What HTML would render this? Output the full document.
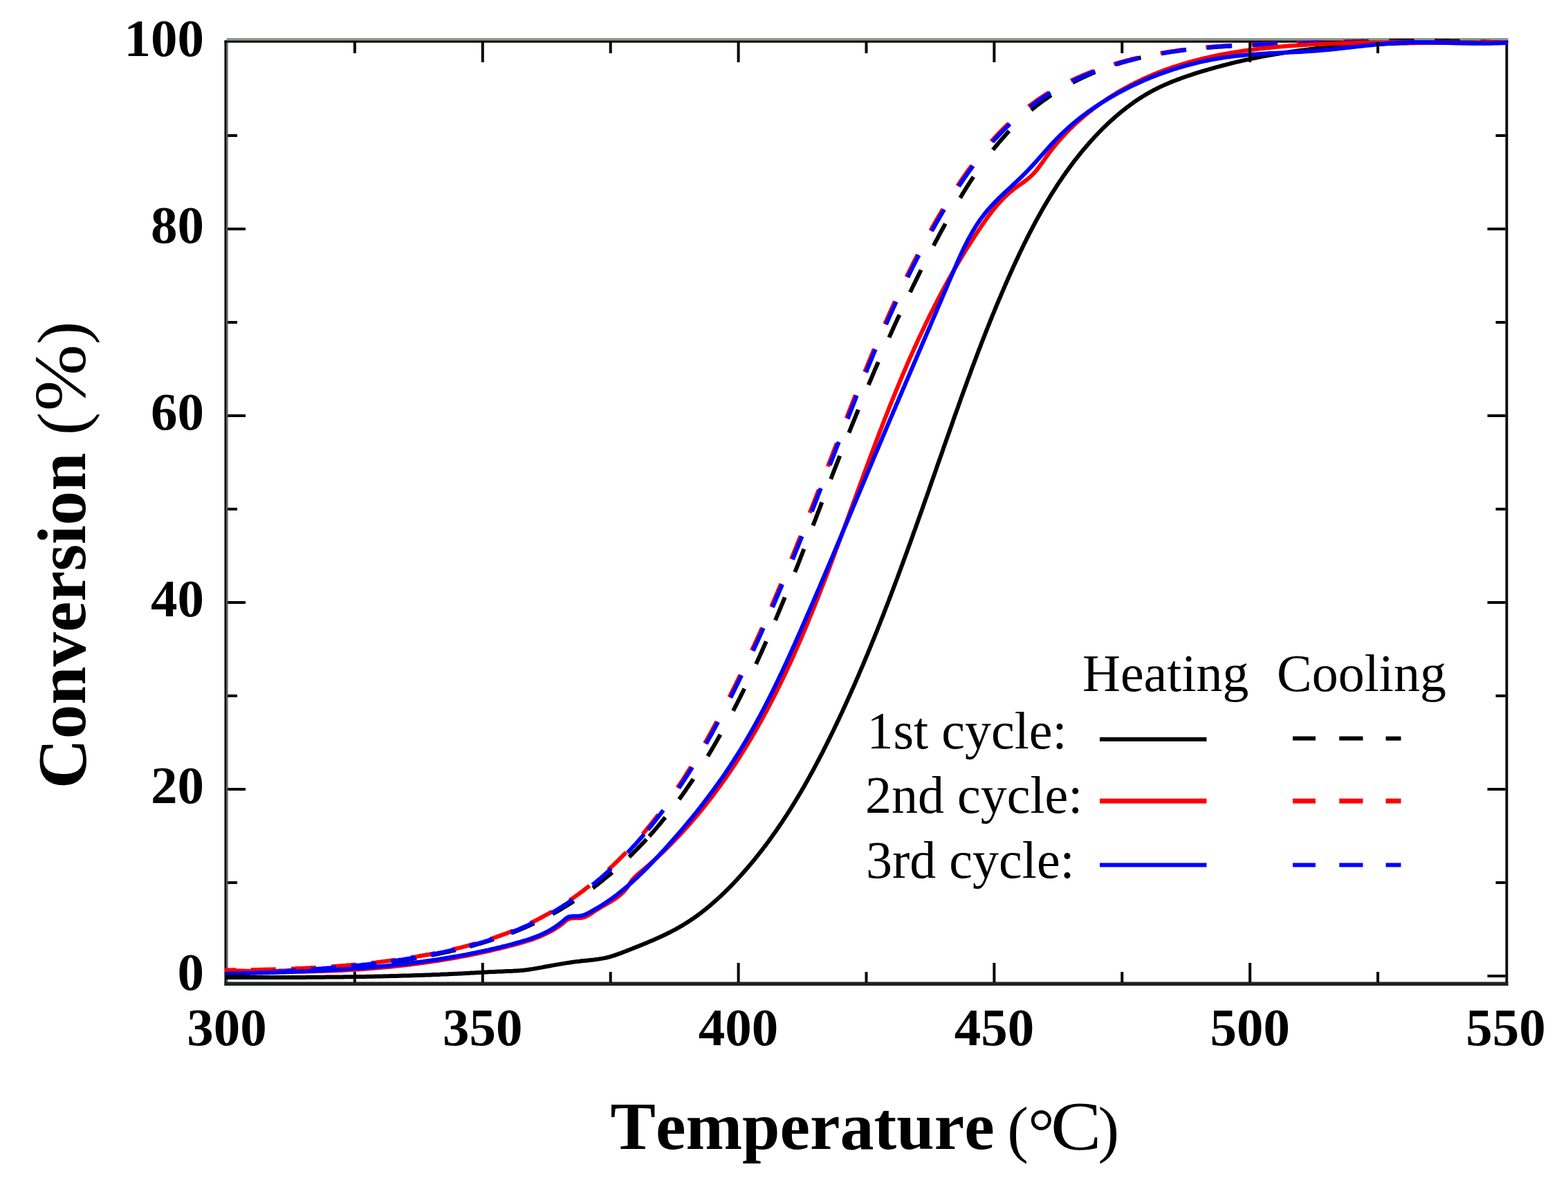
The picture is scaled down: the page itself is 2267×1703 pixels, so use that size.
<!DOCTYPE html><html><head><meta charset="utf-8"><title>Conversion vs Temperature</title>
<style>html,body{margin:0;padding:0;background:#fff;overflow:hidden;}svg{display:block;}text{font-kerning:none;font-feature-settings:"kern" 0;}</style></head><body>
<svg width="2267" height="1703" viewBox="0 0 2267 1703">
<rect x="0" y="0" width="2267" height="1703" fill="#ffffff"/>
<rect x="327.5" y="55" width="1853" height="3.5" fill="#8e968e"/>
<rect x="324.5" y="58.5" width="1856" height="3.2" fill="#050505"/>
<rect x="324.5" y="58.5" width="3.2" height="1366.5" fill="#000"/>
<rect x="327.7" y="62" width="2" height="1358" fill="#707070"/>
<rect x="2176.5" y="58.5" width="3.8" height="1366.5" fill="#000"/>
<rect x="324.5" y="1419.5" width="1856" height="5.5" fill="#1e2224"/>
<g fill="none" stroke-linejoin="round" stroke-linecap="butt">
<path d="M328.0,1406.5L331.0,1406.5 334.0,1406.5 337.0,1406.4 340.0,1406.4 343.0,1406.4 346.0,1406.3 349.0,1406.3 352.0,1406.2 355.0,1406.2 358.0,1406.1 361.0,1406.1 364.1,1406.0 367.1,1405.9 370.1,1405.9 373.1,1405.8 376.1,1405.7 379.1,1405.6 382.1,1405.6 385.1,1405.5 388.1,1405.4 391.1,1405.3 394.1,1405.2 397.1,1405.1 400.1,1405.0 403.1,1404.9 406.1,1404.8 409.1,1404.6 412.1,1404.5 415.1,1404.4 418.1,1404.2 421.1,1404.1 424.1,1404.0 427.1,1403.8 430.1,1403.7 433.1,1403.5 436.1,1403.3 439.1,1403.2 442.1,1403.0 445.1,1402.8 448.1,1402.6 451.1,1402.5 454.1,1402.3 457.1,1402.1 460.0,1401.9 463.0,1401.7 466.0,1401.4 469.0,1401.2 472.0,1401.0 475.0,1400.8 478.0,1400.5 481.0,1400.3 484.0,1400.0 487.0,1399.8 490.0,1399.5 493.0,1399.3 495.9,1399.0 498.9,1398.7 501.9,1398.4 504.9,1398.1 507.9,1397.8 510.9,1397.5 513.9,1397.2 516.8,1396.9 519.8,1396.6 522.8,1396.3 525.8,1395.9 528.8,1395.6 531.8,1395.3 534.7,1394.9 537.7,1394.5 540.7,1394.2 543.7,1393.8 546.6,1393.4 549.6,1393.0 552.6,1392.6 555.6,1392.2 558.5,1391.8 561.5,1391.4 564.5,1391.0 567.5,1390.6 570.4,1390.1 573.4,1389.7 576.4,1389.2 579.3,1388.8 582.3,1388.3 585.3,1387.8 588.2,1387.3 591.2,1386.9 594.2,1386.4 597.1,1385.8 600.1,1385.3 603.0,1384.8 606.0,1384.3 609.0,1383.7 611.9,1383.2 614.9,1382.6 617.8,1382.1 620.8,1381.5 623.7,1380.9 626.7,1380.3 629.6,1379.8 632.6,1379.1 635.5,1378.5 638.5,1377.9 641.4,1377.3 644.4,1376.6 647.3,1376.0 650.2,1375.3 653.2,1374.6 656.1,1374.0 659.0,1373.3 662.0,1372.6 664.9,1371.8 667.8,1371.1 670.7,1370.4 673.6,1369.6 676.5,1368.9 679.4,1368.1 682.3,1367.3 685.2,1366.5 688.1,1365.7 691.0,1364.9 693.9,1364.0 696.8,1363.2 699.7,1362.3 702.5,1361.4 705.4,1360.6 708.3,1359.7 711.1,1358.7 714.0,1357.8 716.8,1356.9 719.6,1355.9 722.5,1354.9 725.3,1353.9 728.1,1352.9 730.9,1351.9 733.8,1350.9 736.6,1349.8 739.4,1348.8 742.1,1347.7 744.9,1346.6 747.7,1345.5 750.5,1344.4 753.2,1343.2 756.0,1342.1 758.7,1340.9 761.5,1339.7 764.2,1338.5 766.9,1337.3 769.6,1336.0 772.3,1334.8 775.0,1333.5 777.7,1332.2 780.4,1330.9 783.1,1329.5 785.8,1328.2 788.4,1326.8 791.1,1325.4 793.7,1324.0 796.4,1322.6 799.0,1321.2 801.6,1319.7 804.2,1318.3 806.8,1316.8 809.4,1315.3 812.0,1313.8 814.5,1312.2 817.1,1310.7 819.7,1309.1 822.2,1307.5 824.8,1305.9 827.3,1304.3 829.8,1302.7 832.3,1301.0 834.8,1299.4 837.3,1297.7 839.8,1296.0 842.3,1294.3 844.8,1292.6 847.2,1290.9 849.7,1289.1 852.1,1287.3 854.5,1285.6 856.9,1283.8 859.4,1282.0 861.8,1280.1 864.1,1278.3 866.5,1276.5 868.9,1274.6 871.3,1272.7 873.6,1270.8 875.9,1268.9 878.3,1267.0 880.6,1265.1 882.9,1263.2 885.2,1261.2 887.5,1259.2 889.7,1257.3 892.0,1255.3 894.2,1253.3 896.5,1251.3 898.7,1249.3 900.9,1247.2 903.1,1245.2 905.3,1243.1 907.4,1241.1 909.6,1239.0 911.8,1236.9 913.9,1234.8 916.0,1232.7 918.1,1230.6 920.2,1228.5 922.3,1226.3 924.4,1224.2 926.5,1222.0 928.5,1219.9 930.6,1217.7 932.6,1215.5 934.7,1213.3 936.7,1211.1 938.7,1208.9 940.7,1206.7 942.6,1204.4 944.6,1202.2 946.6,1199.9 948.5,1197.7 950.5,1195.4 952.4,1193.1 954.3,1190.8 956.2,1188.5 958.1,1186.2 960.0,1183.9 961.9,1181.6 963.8,1179.3 965.6,1176.9 967.5,1174.6 969.3,1172.2 971.1,1169.9 972.9,1167.5 974.8,1165.1 976.6,1162.7 978.3,1160.3 980.1,1157.9 981.9,1155.5 983.7,1153.1 985.4,1150.7 987.2,1148.3 988.9,1145.8 990.6,1143.4 992.3,1140.9 994.0,1138.5 995.7,1136.0 997.4,1133.5 999.1,1131.0 1000.8,1128.6 1002.5,1126.1 1004.1,1123.6 1005.8,1121.1 1007.4,1118.6 1009.0,1116.0 1010.7,1113.5 1012.3,1111.0 1013.9,1108.5 1015.5,1105.9 1017.1,1103.4 1018.6,1100.8 1020.2,1098.3 1021.8,1095.7 1023.4,1093.1 1024.9,1090.6 1026.4,1088.0 1028.0,1085.4 1029.5,1082.8 1031.0,1080.2 1032.6,1077.6 1034.1,1075.0 1035.6,1072.4 1037.1,1069.8 1038.5,1067.2 1040.0,1064.6 1041.5,1062.0 1043.0,1059.3 1044.4,1056.7 1045.9,1054.1 1047.3,1051.4 1048.8,1048.8 1050.2,1046.1 1051.6,1043.5 1053.1,1040.8 1054.5,1038.2 1055.9,1035.5 1057.3,1032.9 1058.7,1030.2 1060.1,1027.5 1061.5,1024.8 1062.8,1022.2 1064.2,1019.5 1065.6,1016.8 1066.9,1014.1 1068.3,1011.4 1069.7,1008.8 1071.0,1006.1 1072.3,1003.4 1073.7,1000.7 1075.0,998.0 1076.3,995.3 1077.6,992.6 1079.0,989.9 1080.3,987.2 1081.6,984.4 1082.9,981.7 1084.2,979.0 1085.5,976.3 1086.7,973.6 1088.0,970.9 1089.3,968.1 1090.6,965.4 1091.8,962.7 1093.1,960.0 1094.3,957.2 1095.6,954.5 1096.8,951.8 1098.1,949.0 1099.3,946.3 1100.6,943.5 1101.8,940.8 1103.0,938.0 1104.2,935.3 1105.5,932.5 1106.7,929.8 1107.9,927.0 1109.1,924.3 1110.3,921.5 1111.5,918.8 1112.7,916.0 1113.9,913.3 1115.1,910.5 1116.3,907.7 1117.4,905.0 1118.6,902.2 1119.8,899.4 1121.0,896.7 1122.1,893.9 1123.3,891.1 1124.5,888.3 1125.6,885.6 1126.8,882.8 1127.9,880.0 1129.1,877.2 1130.2,874.4 1131.4,871.7 1132.5,868.9 1133.7,866.1 1134.8,863.3 1135.9,860.5 1137.1,857.7 1138.2,854.9 1139.3,852.2 1140.4,849.4 1141.6,846.6 1142.7,843.8 1143.8,841.0 1144.9,838.2 1146.0,835.4 1147.1,832.6 1148.2,829.8 1149.4,827.0 1150.5,824.2 1151.6,821.4 1152.7,818.6 1153.8,815.8 1154.9,813.0 1156.0,810.2 1157.1,807.4 1158.1,804.6 1159.2,801.8 1160.3,799.0 1161.4,796.2 1162.5,793.4 1163.6,790.6 1164.7,787.8 1165.8,785.0 1166.8,782.2 1167.9,779.4 1169.0,776.6 1170.1,773.8 1171.2,771.0 1172.2,768.2 1173.3,765.3 1174.4,762.5 1175.5,759.7 1176.6,756.9 1177.6,754.1 1178.7,751.3 1179.8,748.5 1180.9,745.7 1181.9,742.9 1183.0,740.1 1184.1,737.3 1185.2,734.5 1186.2,731.7 1187.3,728.9 1188.4,726.1 1189.4,723.3 1190.5,720.5 1191.6,717.7 1192.7,714.8 1193.7,712.0 1194.8,709.2 1195.9,706.4 1197.0,703.6 1198.0,700.8 1199.1,698.0 1200.2,695.2 1201.3,692.4 1202.4,689.6 1203.4,686.8 1204.5,684.0 1205.6,681.2 1206.7,678.4 1207.8,675.7 1208.8,672.9 1209.9,670.1 1211.0,667.3 1212.1,664.5 1213.2,661.7 1214.3,658.9 1215.4,656.1 1216.5,653.3 1217.6,650.5 1218.7,647.7 1219.8,645.0 1220.9,642.2 1222.0,639.4 1223.1,636.6 1224.2,633.8 1225.3,631.0 1226.4,628.3 1227.5,625.5 1228.6,622.7 1229.7,619.9 1230.8,617.2 1231.9,614.4 1233.0,611.6 1234.2,608.8 1235.3,606.1 1236.4,603.3 1237.5,600.5 1238.7,597.7 1239.8,595.0 1240.9,592.2 1242.0,589.4 1243.2,586.7 1244.3,583.9 1245.4,581.1 1246.6,578.4 1247.7,575.6 1248.9,572.8 1250.0,570.1 1251.2,567.3 1252.3,564.6 1253.5,561.8 1254.6,559.0 1255.8,556.3 1256.9,553.5 1258.1,550.8 1259.3,548.0 1260.4,545.3 1261.6,542.5 1262.8,539.8 1263.9,537.0 1265.1,534.3 1266.3,531.5 1267.5,528.8 1268.7,526.0 1269.9,523.3 1271.0,520.5 1272.2,517.8 1273.4,515.1 1274.6,512.3 1275.8,509.6 1277.0,506.8 1278.2,504.1 1279.4,501.4 1280.7,498.6 1281.9,495.9 1283.1,493.2 1284.3,490.4 1285.5,487.7 1286.8,485.0 1288.0,482.2 1289.2,479.5 1290.5,476.8 1291.7,474.0 1292.9,471.3 1294.2,468.6 1295.4,465.9 1296.7,463.1 1297.9,460.4 1299.2,457.7 1300.5,455.0 1301.7,452.3 1303.0,449.5 1304.3,446.8 1305.6,444.1 1306.8,441.4 1308.1,438.7 1309.4,436.0 1310.7,433.3 1312.0,430.5 1313.3,427.8 1314.6,425.1 1315.9,422.4 1317.2,419.7 1318.5,417.0 1319.8,414.3 1321.1,411.6 1322.5,408.9 1323.8,406.2 1325.1,403.5 1326.5,400.8 1327.8,398.1 1329.1,395.4 1330.5,392.7 1331.8,390.0 1333.2,387.3 1334.6,384.6 1335.9,381.9 1337.3,379.2 1338.7,376.6 1340.0,373.9 1341.4,371.2 1342.8,368.5 1344.2,365.8 1345.6,363.1 1347.0,360.4 1348.4,357.8 1349.8,355.1 1351.2,352.4 1352.6,349.7 1354.0,347.0 1355.5,344.4 1356.9,341.7 1358.3,339.0 1359.8,336.3 1361.2,333.7 1362.7,331.0 1364.1,328.3 1365.6,325.7 1367.0,323.0 1368.5,320.3 1370.0,317.7 1371.5,315.0 1373.0,312.4 1374.4,309.7 1375.9,307.1 1377.5,304.4 1379.0,301.8 1380.5,299.2 1382.0,296.5 1383.5,293.9 1385.1,291.3 1386.6,288.7 1388.2,286.1 1389.8,283.5 1391.3,280.9 1392.9,278.3 1394.5,275.7 1396.1,273.1 1397.7,270.6 1399.3,268.0 1401.0,265.5 1402.6,262.9 1404.3,260.4 1405.9,257.9 1407.6,255.3 1409.3,252.8 1410.9,250.3 1412.6,247.8 1414.3,245.4 1416.1,242.9 1417.8,240.4 1419.5,238.0 1421.3,235.5 1423.1,233.1 1424.8,230.7 1426.6,228.3 1428.4,225.9 1430.2,223.5 1432.1,221.1 1433.9,218.8 1435.7,216.4 1437.6,214.1 1439.5,211.8 1441.4,209.5 1443.3,207.2 1445.2,204.9 1447.1,202.7 1449.1,200.4 1451.0,198.2 1453.0,196.0 1455.0,193.8 1457.0,191.6 1459.0,189.4 1461.0,187.3 1463.1,185.1 1465.2,183.0 1467.2,180.9 1469.3,178.8 1471.4,176.7 1473.6,174.7 1475.7,172.6 1477.9,170.6 1480.1,168.6 1482.2,166.6 1484.5,164.7 1486.7,162.7 1488.9,160.8 1491.2,158.9 1493.5,157.0 1495.8,155.2 1498.1,153.3 1500.4,151.5 1502.8,149.7 1505.2,147.9 1507.5,146.1 1510.0,144.4 1512.4,142.7 1514.8,141.0 1517.3,139.3 1519.8,137.6 1522.3,136.0 1524.8,134.4 1527.3,132.8 1529.8,131.2 1532.4,129.7 1535.0,128.2 1537.6,126.6 1540.2,125.2 1542.8,123.7 1545.4,122.2 1548.1,120.8 1550.7,119.4 1553.4,118.0 1556.1,116.7 1558.8,115.3 1561.5,114.0 1564.2,112.7 1566.9,111.4 1569.7,110.2 1572.4,108.9 1575.2,107.7 1578.0,106.5 1580.7,105.3 1583.5,104.2 1586.3,103.0 1589.1,101.9 1592.0,100.8 1594.8,99.7 1597.6,98.7 1600.5,97.7 1603.3,96.6 1606.2,95.6 1609.0,94.7 1611.9,93.7 1614.8,92.8 1617.7,91.9 1620.6,91.0 1623.4,90.1 1626.3,89.3 1629.2,88.4 1632.2,87.6 1635.1,86.8 1638.0,86.0 1640.9,85.3 1643.8,84.6 1646.7,83.9 1649.7,83.2 1652.6,82.5 1655.5,81.8 1658.5,81.2 1661.4,80.6 1664.3,79.9 1667.3,79.4 1670.2,78.8 1673.2,78.2 1676.2,77.7 1679.1,77.2 1682.1,76.6 1685.0,76.2 1688.0,75.7 1691.0,75.2 1693.9,74.8 1696.9,74.3 1699.9,73.9 1702.9,73.5 1705.9,73.1 1708.8,72.7 1711.8,72.3 1714.8,72.0 1717.8,71.6 1720.8,71.3 1723.8,70.9 1726.8,70.6 1729.8,70.3 1732.8,70.0 1735.7,69.7 1738.7,69.5 1741.7,69.2 1744.7,68.9 1747.7,68.7 1750.7,68.5 1753.8,68.2 1756.8,68.0 1759.8,67.8 1762.8,67.6 1765.8,67.4 1768.8,67.2 1771.8,67.0 1774.8,66.8 1777.8,66.7 1780.8,66.5 1783.8,66.3 1786.8,66.2 1789.8,66.0 1792.8,65.9 1795.8,65.7 1798.9,65.6 1801.9,65.4 1804.9,65.3 1807.9,65.2 1810.9,65.0 1813.9,64.9 1816.9,64.8 1819.9,64.7 1822.9,64.5 1825.9,64.4 1828.9,64.3 1831.9,64.2 1834.9,64.1 1837.9,64.0 1840.9,63.8 1843.9,63.7 1846.9,63.6 1849.9,63.5 1852.9,63.4 1855.8,63.3 1858.8,63.2 1861.8,63.0 1864.8,62.9 1867.8,62.8 1870.8,62.7 1873.8,62.6 1876.8,62.5 1879.7,62.4 1882.7,62.3 1885.7,62.2 1888.7,62.1 1891.7,62.0 1894.7,61.9 1897.6,61.8 1900.6,61.7 1903.6,61.6 1906.6,61.5 1909.6,61.4 1912.5,61.3 1915.5,61.2 1918.5,61.1 1921.5,61.0 1924.5,61.0 1927.4,60.9 1930.4,60.8 1933.4,60.7 1936.4,60.6 1939.4,60.5 1942.3,60.5 1945.3,60.4 1948.3,60.3 1951.3,60.2 1954.2,60.2 1957.2,60.1 1960.2,60.0 1963.2,60.0 1966.2,59.9 1969.1,59.8 1972.1,59.8 1975.1,59.7 1978.1,59.7 1981.1,59.6 1984.0,59.6 1987.0,59.5 1990.0,59.5 1993.0,59.4 1996.0,59.4 1998.9,59.3 2001.9,59.3 2004.9,59.3 2007.9,59.2 2010.9,59.2 2013.9,59.2 2016.9,59.1 2019.8,59.1 2022.8,59.1 2025.8,59.1 2028.8,59.0 2031.8,59.0 2034.8,59.0 2037.8,59.0 2040.8,59.0 2043.8,59.0 2046.8,59.0 2049.8,59.0 2052.8,59.0 2055.8,59.0 2058.8,59.0 2061.8,59.0 2064.8,59.0 2067.8,59.1 2070.8,59.1 2073.8,59.1 2076.8,59.1 2079.8,59.2 2082.8,59.2 2085.8,59.2 2088.8,59.3 2091.8,59.3 2094.8,59.3 2097.9,59.4 2100.9,59.4 2103.9,59.5 2106.9,59.6 2109.9,59.6 2113.0,59.7 2116.0,59.8 2119.0,59.8 2122.1,59.9 2125.1,60.0 2128.1,60.1 2131.2,60.1 2134.2,60.2 2137.2,60.3 2140.3,60.4 2143.3,60.5 2146.4,60.6 2149.4,60.7 2152.5,60.8 2155.5,60.9 2158.6,61.1 2161.6,61.2 2164.7,61.3 2167.7,61.4 2170.8,61.6 2173.9,61.7 2176.9,61.8 2180.0,62.0" stroke="#000000" stroke-width="6.0" stroke-dasharray="0.0 7.4 36.0 22.0 36.0 22.0 36.0 22.0 36.0 22.0 36.0 22.0 36.0 21.1 36.0 26.9 36.0 29.8 36.0 33.2 36.0 33.0 36.0 5.8 36.0 32.7 36.0 39.0 36.0 39.2 36.0 39.2 36.0 33.2 36.0 39.2 36.0 36.2 36.0 36.0 36.0 35.9 36.0 38.7 36.0 38.8 36.0 36.1 36.0 39.5 36.0 43.0 36.0 48.1 36.0 44.0 36.0 35.9 36.0 33.5 36.0 30.2 36.0 30.2 36.0 30.0 36.0 30.0 36.0 30.0 36.0 30.0 36.0 30.0 36.0 30.0 36.0 103.4"/>
<path d="M325.0,1402.4L328.0,1402.4 331.0,1402.4 334.0,1402.4 337.0,1402.3 340.0,1402.3 343.0,1402.3 346.0,1402.2 349.0,1402.2 352.1,1402.2 355.1,1402.1 358.1,1402.1 361.1,1402.1 364.1,1402.0 367.1,1402.0 370.1,1401.9 373.1,1401.9 376.1,1401.8 379.1,1401.7 382.1,1401.7 385.1,1401.6 388.1,1401.5 391.1,1401.5 394.1,1401.4 397.1,1401.3 400.1,1401.2 403.1,1401.1 406.1,1401.0 409.1,1400.9 412.1,1400.8 415.1,1400.7 418.0,1400.6 421.0,1400.5 424.0,1400.4 427.0,1400.3 430.0,1400.1 433.0,1400.0 436.0,1399.9 439.0,1399.7 442.0,1399.6 445.0,1399.4 448.0,1399.3 451.0,1399.1 454.0,1399.0 457.0,1398.8 459.9,1398.6 462.9,1398.4 465.9,1398.3 468.9,1398.1 471.9,1397.9 474.9,1397.7 477.9,1397.5 480.9,1397.2 483.9,1397.0 486.8,1396.8 489.8,1396.6 492.8,1396.3 495.8,1396.1 498.8,1395.9 501.8,1395.6 504.7,1395.3 507.7,1395.1 510.7,1394.8 513.7,1394.5 516.7,1394.2 519.6,1393.9 522.6,1393.6 525.6,1393.3 528.6,1393.0 531.6,1392.7 534.5,1392.4 537.5,1392.1 540.5,1391.7 543.5,1391.4 546.5,1391.0 549.4,1390.7 552.4,1390.3 555.4,1389.9 558.3,1389.5 561.3,1389.1 564.3,1388.7 567.3,1388.3 570.2,1387.9 573.2,1387.5 576.2,1387.1 579.1,1386.6 582.1,1386.2 585.1,1385.7 588.1,1385.3 591.0,1384.8 594.0,1384.3 597.0,1383.8 599.9,1383.4 602.9,1382.9 605.8,1382.3 608.8,1381.8 611.8,1381.3 614.7,1380.8 617.7,1380.2 620.7,1379.7 623.6,1379.1 626.6,1378.5 629.5,1377.9 632.5,1377.3 635.4,1376.7 638.4,1376.1 641.3,1375.5 644.3,1374.9 647.2,1374.2 650.2,1373.6 653.1,1372.9 656.1,1372.2 659.0,1371.5 661.9,1370.8 664.8,1370.1 667.8,1369.4 670.7,1368.6 673.6,1367.9 676.5,1367.1 679.4,1366.3 682.3,1365.5 685.2,1364.7 688.1,1363.9 691.0,1363.1 693.9,1362.2 696.8,1361.4 699.6,1360.5 702.5,1359.6 705.4,1358.7 708.2,1357.8 711.1,1356.8 713.9,1355.9 716.8,1354.9 719.6,1353.9 722.4,1352.9 725.2,1351.9 728.1,1350.9 730.9,1349.8 733.7,1348.8 736.4,1347.7 739.2,1346.6 742.0,1345.5 744.8,1344.3 747.5,1343.2 750.3,1342.0 753.0,1340.8 755.7,1339.6 758.5,1338.4 761.2,1337.2 763.9,1335.9 766.6,1334.6 769.3,1333.3 772.0,1332.0 774.6,1330.7 777.3,1329.3 779.9,1327.9 782.6,1326.5 785.2,1325.1 787.8,1323.7 790.4,1322.2 793.0,1320.8 795.6,1319.3 798.2,1317.8 800.8,1316.2 803.3,1314.7 805.9,1313.1 808.4,1311.6 811.0,1310.0 813.5,1308.4 816.0,1306.7 818.5,1305.1 821.0,1303.4 823.4,1301.8 825.9,1300.1 828.4,1298.4 830.8,1296.6 833.2,1294.9 835.7,1293.2 838.1,1291.4 840.5,1289.6 842.9,1287.8 845.3,1286.0 847.6,1284.2 850.0,1282.3 852.3,1280.5 854.7,1278.6 857.0,1276.7 859.3,1274.8 861.6,1272.9 863.9,1271.0 866.2,1269.1 868.5,1267.1 870.7,1265.2 873.0,1263.2 875.2,1261.2 877.4,1259.2 879.6,1257.2 881.8,1255.2 884.0,1253.1 886.2,1251.1 888.4,1249.0 890.5,1247.0 892.7,1244.9 894.8,1242.8 896.9,1240.7 899.0,1238.6 901.1,1236.4 903.2,1234.3 905.3,1232.2 907.3,1230.0 909.4,1227.8 911.4,1225.7 913.4,1223.5 915.4,1221.3 917.4,1219.1 919.4,1216.9 921.4,1214.6 923.4,1212.4 925.3,1210.2 927.3,1207.9 929.2,1205.6 931.2,1203.4 933.1,1201.1 935.0,1198.8 936.9,1196.5 938.8,1194.2 940.6,1191.9 942.5,1189.5 944.4,1187.2 946.2,1184.8 948.1,1182.5 949.9,1180.1 951.7,1177.8 953.5,1175.4 955.3,1173.0 957.1,1170.6 958.9,1168.2 960.6,1165.8 962.4,1163.4 964.2,1161.0 965.9,1158.5 967.6,1156.1 969.4,1153.6 971.1,1151.2 972.8,1148.7 974.5,1146.3 976.2,1143.8 977.9,1141.3 979.5,1138.8 981.2,1136.3 982.9,1133.8 984.5,1131.3 986.2,1128.8 987.8,1126.3 989.4,1123.8 991.0,1121.2 992.6,1118.7 994.2,1116.1 995.8,1113.6 997.4,1111.0 999.0,1108.5 1000.6,1105.9 1002.1,1103.3 1003.7,1100.8 1005.3,1098.2 1006.8,1095.6 1008.3,1093.0 1009.9,1090.4 1011.4,1087.8 1012.9,1085.2 1014.4,1082.6 1015.9,1080.0 1017.4,1077.4 1018.9,1074.7 1020.4,1072.1 1021.9,1069.5 1023.3,1066.9 1024.8,1064.2 1026.3,1061.6 1027.7,1058.9 1029.2,1056.3 1030.6,1053.6 1032.1,1051.0 1033.5,1048.3 1034.9,1045.6 1036.3,1043.0 1037.7,1040.3 1039.2,1037.6 1040.6,1035.0 1042.0,1032.3 1043.4,1029.6 1044.7,1026.9 1046.1,1024.2 1047.5,1021.6 1048.9,1018.9 1050.2,1016.2 1051.6,1013.5 1053.0,1010.8 1054.3,1008.1 1055.7,1005.4 1057.0,1002.7 1058.4,1000.0 1059.7,997.3 1061.0,994.6 1062.4,991.9 1063.7,989.2 1065.0,986.5 1066.3,983.8 1067.7,981.1 1069.0,978.3 1070.3,975.6 1071.6,972.9 1072.9,970.2 1074.2,967.5 1075.5,964.8 1076.8,962.1 1078.0,959.3 1079.3,956.6 1080.6,953.9 1081.9,951.2 1083.2,948.4 1084.4,945.7 1085.7,943.0 1086.9,940.3 1088.2,937.5 1089.5,934.8 1090.7,932.1 1091.9,929.3 1093.2,926.6 1094.4,923.9 1095.7,921.1 1096.9,918.4 1098.1,915.7 1099.4,912.9 1100.6,910.2 1101.8,907.4 1103.0,904.7 1104.2,902.0 1105.5,899.2 1106.7,896.5 1107.9,893.7 1109.1,891.0 1110.3,888.2 1111.5,885.5 1112.7,882.7 1113.9,880.0 1115.1,877.2 1116.2,874.5 1117.4,871.7 1118.6,869.0 1119.8,866.2 1121.0,863.5 1122.1,860.7 1123.3,857.9 1124.5,855.2 1125.6,852.4 1126.8,849.7 1128.0,846.9 1129.1,844.1 1130.3,841.4 1131.4,838.6 1132.6,835.8 1133.7,833.1 1134.9,830.3 1136.0,827.6 1137.2,824.8 1138.3,822.0 1139.5,819.2 1140.6,816.5 1141.7,813.7 1142.9,810.9 1144.0,808.2 1145.1,805.4 1146.3,802.6 1147.4,799.8 1148.5,797.1 1149.7,794.3 1150.8,791.5 1151.9,788.7 1153.0,786.0 1154.1,783.2 1155.2,780.4 1156.4,777.6 1157.5,774.9 1158.6,772.1 1159.7,769.3 1160.8,766.5 1161.9,763.7 1163.0,760.9 1164.1,758.2 1165.2,755.4 1166.3,752.6 1167.4,749.8 1168.5,747.0 1169.6,744.2 1170.7,741.5 1171.8,738.7 1172.9,735.9 1174.0,733.1 1175.1,730.3 1176.2,727.5 1177.3,724.7 1178.4,722.0 1179.5,719.2 1180.5,716.4 1181.6,713.6 1182.7,710.8 1183.8,708.0 1184.9,705.2 1186.0,702.4 1187.1,699.6 1188.1,696.8 1189.2,694.0 1190.3,691.3 1191.4,688.5 1192.5,685.7 1193.5,682.9 1194.6,680.1 1195.7,677.3 1196.8,674.5 1197.9,671.7 1198.9,668.9 1200.0,666.1 1201.1,663.3 1202.2,660.5 1203.3,657.7 1204.3,654.9 1205.4,652.1 1206.5,649.3 1207.6,646.6 1208.6,643.8 1209.7,641.0 1210.8,638.2 1211.9,635.4 1213.0,632.6 1214.0,629.8 1215.1,627.0 1216.2,624.2 1217.3,621.4 1218.4,618.6 1219.4,615.8 1220.5,613.0 1221.6,610.2 1222.7,607.4 1223.8,604.6 1224.9,601.8 1225.9,599.0 1227.0,596.2 1228.1,593.4 1229.2,590.7 1230.3,587.9 1231.4,585.1 1232.5,582.3 1233.6,579.5 1234.7,576.7 1235.8,573.9 1236.9,571.1 1238.0,568.3 1239.1,565.5 1240.2,562.8 1241.3,560.0 1242.4,557.2 1243.5,554.4 1244.6,551.6 1245.7,548.8 1246.8,546.0 1248.0,543.3 1249.1,540.5 1250.2,537.7 1251.3,534.9 1252.4,532.1 1253.6,529.4 1254.7,526.6 1255.8,523.8 1257.0,521.0 1258.1,518.3 1259.3,515.5 1260.4,512.7 1261.6,510.0 1262.7,507.2 1263.9,504.4 1265.0,501.7 1266.2,498.9 1267.3,496.1 1268.5,493.4 1269.7,490.6 1270.9,487.8 1272.0,485.1 1273.2,482.3 1274.4,479.6 1275.6,476.8 1276.8,474.1 1278.0,471.3 1279.2,468.6 1280.4,465.8 1281.6,463.1 1282.8,460.3 1284.0,457.6 1285.2,454.8 1286.4,452.1 1287.7,449.4 1288.9,446.6 1290.1,443.9 1291.4,441.2 1292.6,438.4 1293.9,435.7 1295.1,433.0 1296.4,430.2 1297.6,427.5 1298.9,424.8 1300.2,422.1 1301.5,419.4 1302.7,416.6 1304.0,413.9 1305.3,411.2 1306.6,408.5 1307.9,405.8 1309.2,403.1 1310.5,400.4 1311.8,397.7 1313.2,395.0 1314.5,392.3 1315.8,389.6 1317.2,386.9 1318.5,384.2 1319.9,381.5 1321.2,378.9 1322.6,376.2 1323.9,373.5 1325.3,370.8 1326.7,368.1 1328.1,365.5 1329.5,362.8 1330.9,360.1 1332.3,357.5 1333.7,354.8 1335.1,352.1 1336.5,349.5 1338.0,346.8 1339.4,344.2 1340.8,341.5 1342.3,338.9 1343.7,336.3 1345.2,333.6 1346.7,331.0 1348.1,328.3 1349.6,325.7 1351.1,323.1 1352.6,320.5 1354.1,317.8 1355.6,315.2 1357.1,312.6 1358.7,310.0 1360.2,307.4 1361.7,304.8 1363.3,302.2 1364.8,299.6 1366.4,297.0 1368.0,294.4 1369.6,291.8 1371.2,289.2 1372.8,286.7 1374.4,284.1 1376.0,281.6 1377.6,279.0 1379.2,276.5 1380.9,273.9 1382.5,271.4 1384.2,268.9 1385.9,266.4 1387.6,263.9 1389.2,261.4 1390.9,258.9 1392.7,256.4 1394.4,253.9 1396.1,251.4 1397.9,249.0 1399.6,246.5 1401.4,244.1 1403.2,241.7 1404.9,239.3 1406.7,236.9 1408.6,234.5 1410.4,232.1 1412.2,229.7 1414.1,227.4 1415.9,225.0 1417.8,222.7 1419.7,220.3 1421.6,218.0 1423.5,215.7 1425.4,213.5 1427.3,211.2 1429.3,208.9 1431.2,206.7 1433.2,204.4 1435.2,202.2 1437.2,200.0 1439.2,197.8 1441.2,195.7 1443.2,193.5 1445.3,191.4 1447.4,189.2 1449.4,187.1 1451.5,185.0 1453.6,182.9 1455.8,180.9 1457.9,178.8 1460.1,176.8 1462.2,174.8 1464.4,172.8 1466.6,170.8 1468.8,168.9 1471.1,166.9 1473.3,165.0 1475.6,163.1 1477.8,161.2 1480.1,159.3 1482.5,157.5 1484.8,155.7 1487.1,153.9 1489.5,152.1 1491.9,150.3 1494.3,148.6 1496.7,146.8 1499.1,145.1 1501.5,143.5 1504.0,141.8 1506.5,140.2 1509.0,138.5 1511.5,136.9 1514.0,135.4 1516.6,133.8 1519.1,132.3 1521.7,130.8 1524.3,129.3 1526.9,127.8 1529.5,126.4 1532.1,124.9 1534.8,123.5 1537.4,122.1 1540.1,120.7 1542.8,119.4 1545.5,118.1 1548.2,116.8 1550.9,115.5 1553.6,114.2 1556.4,112.9 1559.1,111.7 1561.9,110.5 1564.7,109.3 1567.4,108.1 1570.2,107.0 1573.0,105.9 1575.9,104.7 1578.7,103.6 1581.5,102.6 1584.3,101.5 1587.2,100.5 1590.0,99.4 1592.9,98.4 1595.7,97.4 1598.6,96.5 1601.5,95.5 1604.4,94.6 1607.3,93.7 1610.2,92.8 1613.1,91.9 1616.0,91.1 1618.9,90.2 1621.8,89.4 1624.7,88.6 1627.6,87.8 1630.5,87.0 1633.5,86.3 1636.4,85.5 1639.3,84.8 1642.3,84.1 1645.2,83.4 1648.1,82.8 1651.1,82.1 1654.0,81.5 1657.0,80.8 1659.9,80.2 1662.9,79.6 1665.8,79.0 1668.8,78.5 1671.7,77.9 1674.7,77.4 1677.7,76.9 1680.6,76.4 1683.6,75.9 1686.6,75.4 1689.5,74.9 1692.5,74.4 1695.5,74.0 1698.5,73.6 1701.4,73.1 1704.4,72.7 1707.4,72.3 1710.4,72.0 1713.4,71.6 1716.4,71.2 1719.3,70.9 1722.3,70.5 1725.3,70.2 1728.3,69.9 1731.3,69.6 1734.3,69.2 1737.3,69.0 1740.3,68.7 1743.3,68.4 1746.3,68.1 1749.3,67.9 1752.3,67.6 1755.3,67.4 1758.3,67.1 1761.3,66.9 1764.3,66.7 1767.3,66.5 1770.3,66.3 1773.3,66.1 1776.3,65.9 1779.3,65.7 1782.3,65.5 1785.3,65.4 1788.3,65.2 1791.3,65.0 1794.3,64.9 1797.3,64.7 1800.3,64.6 1803.3,64.4 1806.3,64.3 1809.3,64.2 1812.3,64.0 1815.3,63.9 1818.2,63.8 1821.2,63.7 1824.2,63.6 1827.2,63.5 1830.2,63.3 1833.2,63.2 1836.2,63.1 1839.2,63.0 1842.2,62.9 1845.2,62.8 1848.2,62.7 1851.1,62.7 1854.1,62.6 1857.1,62.5 1860.1,62.4 1863.1,62.3 1866.1,62.2 1869.1,62.1 1872.0,62.1 1875.0,62.0 1878.0,61.9 1881.0,61.9 1884.0,61.8 1886.9,61.7 1889.9,61.7 1892.9,61.6 1895.9,61.5 1898.8,61.5 1901.8,61.4 1904.8,61.4 1907.8,61.3 1910.8,61.3 1913.7,61.2 1916.7,61.2 1919.7,61.1 1922.7,61.1 1925.6,61.1 1928.6,61.0 1931.6,61.0 1934.6,60.9 1937.5,60.9 1940.5,60.9 1943.5,60.9 1946.5,60.8 1949.4,60.8 1952.4,60.8 1955.4,60.8 1958.4,60.7 1961.3,60.7 1964.3,60.7 1967.3,60.7 1970.3,60.7 1973.3,60.6 1976.2,60.6 1979.2,60.6 1982.2,60.6 1985.2,60.6 1988.2,60.6 1991.1,60.6 1994.1,60.6 1997.1,60.6 2000.1,60.6 2003.1,60.6 2006.0,60.6 2009.0,60.6 2012.0,60.6 2015.0,60.6 2018.0,60.6 2021.0,60.6 2024.0,60.6 2026.9,60.6 2029.9,60.6 2032.9,60.6 2035.9,60.6 2038.9,60.6 2041.9,60.6 2044.9,60.6 2047.9,60.6 2050.9,60.7 2053.9,60.7 2056.9,60.7 2059.9,60.7 2062.9,60.7 2065.9,60.7 2068.9,60.7 2071.9,60.8 2074.9,60.8 2077.9,60.8 2080.9,60.8 2083.9,60.8 2086.9,60.8 2089.9,60.9 2092.9,60.9 2096.0,60.9 2099.0,60.9 2102.0,60.9 2105.0,61.0 2108.0,61.0 2111.1,61.0 2114.1,61.0 2117.1,61.0 2120.1,61.1 2123.2,61.1 2126.2,61.1 2129.2,61.1 2132.3,61.2 2135.3,61.2 2138.3,61.2 2141.4,61.2 2144.4,61.2 2147.5,61.3 2150.5,61.3 2153.5,61.3 2156.6,61.3 2159.6,61.4 2162.7,61.4 2165.8,61.4 2168.8,61.4 2171.9,61.4 2174.9,61.5 2178.0,61.5" stroke="#ff0000" stroke-width="6.0" stroke-dasharray="15.9 22.0 36.0 22.0 36.0 22.0 36.0 22.0 36.0 22.0 36.0 24.3 36.0 21.1 36.0 26.8 36.0 29.7 36.0 35.8 36.0 35.6 36.0 47.8 36.0 39.3 36.0 39.5 36.0 39.2 36.0 33.0 36.0 38.9 36.0 35.8 36.0 35.9 36.0 38.9 36.0 36.0 36.0 39.0 36.0 39.1 36.0 39.3 36.0 39.6 36.0 44.7 36.0 38.0 36.0 35.9 36.0 30.6 36.0 33.3 36.0 30.2 36.0 30.0 36.0 30.0 36.0 30.0 36.0 30.0 36.0 30.0 36.0 30.0 36.0 102.9"/>
<path d="M327.0,1405.6L330.0,1405.6 333.1,1405.5 336.1,1405.5 339.0,1405.5 342.0,1405.4 345.0,1405.3 348.0,1405.3 351.0,1405.2 354.0,1405.2 357.0,1405.1 360.0,1405.0 363.0,1405.0 366.0,1404.9 369.0,1404.8 372.0,1404.7 375.0,1404.7 378.0,1404.6 381.0,1404.5 384.0,1404.4 387.0,1404.3 390.0,1404.2 393.0,1404.1 396.0,1404.0 399.0,1403.9 402.0,1403.7 405.0,1403.6 408.0,1403.5 411.0,1403.4 414.0,1403.2 417.0,1403.1 420.0,1402.9 423.0,1402.8 426.0,1402.7 428.9,1402.5 431.9,1402.3 434.9,1402.2 437.9,1402.0 440.9,1401.8 443.9,1401.7 446.9,1401.5 449.9,1401.3 452.9,1401.1 455.9,1400.9 458.9,1400.7 461.8,1400.5 464.8,1400.3 467.8,1400.0 470.8,1399.8 473.8,1399.6 476.8,1399.4 479.8,1399.1 482.8,1398.9 485.7,1398.6 488.7,1398.4 491.7,1398.1 494.7,1397.8 497.7,1397.6 500.7,1397.3 503.6,1397.0 506.6,1396.7 509.6,1396.4 512.6,1396.1 515.6,1395.8 518.6,1395.5 521.5,1395.2 524.5,1394.8 527.5,1394.5 530.5,1394.2 533.5,1393.8 536.4,1393.5 539.4,1393.1 542.4,1392.7 545.4,1392.4 548.3,1392.0 551.3,1391.6 554.3,1391.2 557.3,1390.8 560.2,1390.4 563.2,1390.0 566.2,1389.6 569.1,1389.1 572.1,1388.7 575.1,1388.3 578.1,1387.8 581.0,1387.4 584.0,1386.9 587.0,1386.4 589.9,1385.9 592.9,1385.5 595.9,1385.0 598.8,1384.5 601.8,1383.9 604.8,1383.4 607.7,1382.9 610.7,1382.4 613.6,1381.8 616.6,1381.3 619.6,1380.7 622.5,1380.2 625.5,1379.6 628.4,1379.0 631.4,1378.4 634.4,1377.8 637.3,1377.2 640.3,1376.6 643.2,1375.9 646.2,1375.3 649.1,1374.6 652.0,1374.0 655.0,1373.3 657.9,1372.6 660.8,1371.9 663.8,1371.2 666.7,1370.5 669.6,1369.8 672.5,1369.0 675.5,1368.3 678.4,1367.5 681.3,1366.7 684.2,1365.9 687.1,1365.1 690.0,1364.3 692.9,1363.5 695.7,1362.6 698.6,1361.8 701.5,1360.9 704.4,1360.0 707.2,1359.1 710.1,1358.2 712.9,1357.3 715.8,1356.3 718.6,1355.3 721.4,1354.4 724.3,1353.4 727.1,1352.4 729.9,1351.3 732.7,1350.3 735.5,1349.2 738.3,1348.2 741.1,1347.1 743.8,1345.9 746.6,1344.8 749.4,1343.7 752.1,1342.5 754.9,1341.3 757.6,1340.1 760.3,1338.9 763.0,1337.7 765.7,1336.4 768.4,1335.1 771.1,1333.8 773.8,1332.5 776.5,1331.2 779.1,1329.8 781.8,1328.5 784.4,1327.1 787.0,1325.7 789.7,1324.2 792.3,1322.8 794.9,1321.3 797.5,1319.8 800.1,1318.3 802.6,1316.8 805.2,1315.3 807.7,1313.7 810.3,1312.1 812.8,1310.6 815.3,1308.9 817.8,1307.3 820.3,1305.7 822.8,1304.0 825.3,1302.4 827.8,1300.7 830.2,1299.0 832.7,1297.3 835.1,1295.5 837.5,1293.8 840.0,1292.0 842.4,1290.2 844.8,1288.4 847.1,1286.6 849.5,1284.8 851.9,1283.0 854.2,1281.1 856.6,1279.2 858.9,1277.4 861.2,1275.5 863.5,1273.6 865.8,1271.6 868.1,1269.7 870.4,1267.8 872.6,1265.8 874.9,1263.8 877.1,1261.8 879.3,1259.8 881.5,1257.8 883.7,1255.8 885.9,1253.8 888.1,1251.7 890.3,1249.7 892.4,1247.6 894.6,1245.5 896.7,1243.4 898.8,1241.3 900.9,1239.2 903.0,1237.1 905.1,1235.0 907.2,1232.8 909.2,1230.7 911.3,1228.5 913.3,1226.3 915.3,1224.1 917.4,1221.9 919.4,1219.7 921.4,1217.5 923.3,1215.3 925.3,1213.0 927.3,1210.8 929.2,1208.5 931.2,1206.3 933.1,1204.0 935.0,1201.7 936.9,1199.4 938.8,1197.1 940.7,1194.8 942.6,1192.5 944.4,1190.2 946.3,1187.8 948.1,1185.5 950.0,1183.1 951.8,1180.8 953.6,1178.4 955.4,1176.0 957.2,1173.6 959.0,1171.2 960.8,1168.8 962.6,1166.4 964.3,1164.0 966.1,1161.6 967.8,1159.2 969.6,1156.7 971.3,1154.3 973.0,1151.8 974.7,1149.4 976.4,1146.9 978.1,1144.4 979.8,1141.9 981.5,1139.4 983.1,1136.9 984.8,1134.4 986.4,1131.9 988.1,1129.4 989.7,1126.9 991.3,1124.4 993.0,1121.8 994.6,1119.3 996.2,1116.8 997.8,1114.2 999.4,1111.7 1000.9,1109.1 1002.5,1106.5 1004.1,1104.0 1005.6,1101.4 1007.2,1098.8 1008.7,1096.2 1010.3,1093.6 1011.8,1091.0 1013.3,1088.4 1014.8,1085.8 1016.3,1083.2 1017.9,1080.6 1019.4,1078.0 1020.8,1075.3 1022.3,1072.7 1023.8,1070.1 1025.3,1067.4 1026.7,1064.8 1028.2,1062.2 1029.7,1059.5 1031.1,1056.9 1032.5,1054.2 1034.0,1051.6 1035.4,1048.9 1036.8,1046.2 1038.3,1043.6 1039.7,1040.9 1041.1,1038.2 1042.5,1035.6 1043.9,1032.9 1045.3,1030.2 1046.7,1027.5 1048.1,1024.8 1049.4,1022.1 1050.8,1019.5 1052.2,1016.8 1053.5,1014.1 1054.9,1011.4 1056.3,1008.7 1057.6,1006.0 1059.0,1003.3 1060.3,1000.6 1061.6,997.9 1063.0,995.2 1064.3,992.5 1065.6,989.8 1067.0,987.1 1068.3,984.3 1069.6,981.6 1070.9,978.9 1072.2,976.2 1073.5,973.5 1074.8,970.8 1076.1,968.1 1077.4,965.3 1078.7,962.6 1080.0,959.9 1081.3,957.2 1082.5,954.5 1083.8,951.7 1085.1,949.0 1086.4,946.3 1087.6,943.6 1088.9,940.8 1090.1,938.1 1091.4,935.4 1092.6,932.6 1093.9,929.9 1095.1,927.2 1096.4,924.4 1097.6,921.7 1098.8,919.0 1100.1,916.2 1101.3,913.5 1102.5,910.8 1103.8,908.0 1105.0,905.3 1106.2,902.5 1107.4,899.8 1108.6,897.0 1109.8,894.3 1111.0,891.6 1112.2,888.8 1113.4,886.1 1114.6,883.3 1115.8,880.6 1117.0,877.8 1118.2,875.1 1119.4,872.3 1120.6,869.6 1121.7,866.8 1122.9,864.0 1124.1,861.3 1125.3,858.5 1126.4,855.8 1127.6,853.0 1128.8,850.2 1129.9,847.5 1131.1,844.7 1132.3,842.0 1133.4,839.2 1134.6,836.4 1135.7,833.7 1136.9,830.9 1138.0,828.1 1139.2,825.4 1140.3,822.6 1141.5,819.8 1142.6,817.1 1143.7,814.3 1144.9,811.5 1146.0,808.8 1147.1,806.0 1148.3,803.2 1149.4,800.4 1150.5,797.7 1151.6,794.9 1152.8,792.1 1153.9,789.3 1155.0,786.6 1156.1,783.8 1157.2,781.0 1158.4,778.2 1159.5,775.5 1160.6,772.7 1161.7,769.9 1162.8,767.1 1163.9,764.3 1165.0,761.6 1166.1,758.8 1167.2,756.0 1168.3,753.2 1169.4,750.4 1170.5,747.6 1171.6,744.9 1172.7,742.1 1173.8,739.3 1174.9,736.5 1176.0,733.7 1177.1,730.9 1178.2,728.1 1179.3,725.4 1180.4,722.6 1181.5,719.8 1182.5,717.0 1183.6,714.2 1184.7,711.4 1185.8,708.6 1186.9,705.8 1188.0,703.0 1189.1,700.2 1190.1,697.5 1191.2,694.7 1192.3,691.9 1193.4,689.1 1194.5,686.3 1195.6,683.5 1196.6,680.7 1197.7,677.9 1198.8,675.1 1199.9,672.3 1200.9,669.5 1202.0,666.7 1203.1,663.9 1204.2,661.1 1205.3,658.3 1206.3,655.6 1207.4,652.8 1208.5,650.0 1209.6,647.2 1210.6,644.4 1211.7,641.6 1212.8,638.8 1213.9,636.0 1215.0,633.2 1216.0,630.4 1217.1,627.6 1218.2,624.8 1219.3,622.0 1220.3,619.2 1221.4,616.4 1222.5,613.6 1223.6,610.8 1224.7,608.0 1225.8,605.2 1226.8,602.4 1227.9,599.6 1229.0,596.8 1230.1,594.0 1231.2,591.3 1232.3,588.5 1233.4,585.7 1234.5,582.9 1235.5,580.1 1236.6,577.3 1237.7,574.5 1238.8,571.7 1239.9,568.9 1241.0,566.1 1242.1,563.3 1243.2,560.6 1244.3,557.8 1245.5,555.0 1246.6,552.2 1247.7,549.4 1248.8,546.6 1249.9,543.8 1251.0,541.1 1252.1,538.3 1253.3,535.5 1254.4,532.7 1255.5,529.9 1256.6,527.2 1257.8,524.4 1258.9,521.6 1260.1,518.8 1261.2,516.1 1262.3,513.3 1263.5,510.5 1264.6,507.8 1265.8,505.0 1266.9,502.2 1268.1,499.4 1269.3,496.7 1270.4,493.9 1271.6,491.2 1272.8,488.4 1274.0,485.6 1275.1,482.9 1276.3,480.1 1277.5,477.4 1278.7,474.6 1279.9,471.9 1281.1,469.1 1282.3,466.4 1283.5,463.6 1284.7,460.9 1285.9,458.1 1287.1,455.4 1288.3,452.6 1289.6,449.9 1290.8,447.2 1292.0,444.4 1293.3,441.7 1294.5,439.0 1295.8,436.2 1297.0,433.5 1298.3,430.8 1299.5,428.1 1300.8,425.3 1302.1,422.6 1303.3,419.9 1304.6,417.2 1305.9,414.5 1307.2,411.7 1308.5,409.0 1309.8,406.3 1311.1,403.6 1312.4,400.9 1313.7,398.2 1315.1,395.5 1316.4,392.8 1317.7,390.1 1319.1,387.4 1320.4,384.7 1321.8,382.1 1323.1,379.4 1324.5,376.7 1325.8,374.0 1327.2,371.3 1328.6,368.7 1330.0,366.0 1331.4,363.3 1332.8,360.7 1334.2,358.0 1335.6,355.3 1337.0,352.7 1338.4,350.0 1339.9,347.4 1341.3,344.7 1342.7,342.1 1344.2,339.4 1345.7,336.8 1347.1,334.1 1348.6,331.5 1350.1,328.9 1351.6,326.2 1353.0,323.6 1354.5,321.0 1356.0,318.4 1357.6,315.7 1359.1,313.1 1360.6,310.5 1362.1,307.9 1363.7,305.3 1365.2,302.7 1366.8,300.1 1368.4,297.5 1369.9,294.9 1371.5,292.4 1373.1,289.8 1374.7,287.2 1376.3,284.6 1378.0,282.1 1379.6,279.5 1381.2,277.0 1382.9,274.5 1384.5,271.9 1386.2,269.4 1387.9,266.9 1389.6,264.4 1391.2,261.9 1393.0,259.4 1394.7,256.9 1396.4,254.5 1398.1,252.0 1399.9,249.5 1401.6,247.1 1403.4,244.7 1405.2,242.2 1407.0,239.8 1408.8,237.4 1410.6,235.0 1412.4,232.6 1414.3,230.3 1416.1,227.9 1418.0,225.6 1419.8,223.2 1421.7,220.9 1423.6,218.6 1425.5,216.3 1427.4,214.0 1429.4,211.7 1431.3,209.5 1433.3,207.2 1435.3,205.0 1437.2,202.8 1439.2,200.6 1441.3,198.4 1443.3,196.2 1445.3,194.1 1447.4,191.9 1449.4,189.8 1451.5,187.7 1453.6,185.6 1455.7,183.5 1457.9,181.5 1460.0,179.4 1462.2,177.4 1464.3,175.4 1466.5,173.4 1468.7,171.4 1470.9,169.4 1473.2,167.5 1475.4,165.6 1477.7,163.7 1479.9,161.8 1482.2,159.9 1484.5,158.1 1486.9,156.3 1489.2,154.4 1491.6,152.7 1493.9,150.9 1496.3,149.2 1498.7,147.4 1501.2,145.7 1503.6,144.0 1506.1,142.4 1508.5,140.7 1511.0,139.1 1513.5,137.5 1516.1,135.9 1518.6,134.4 1521.1,132.9 1523.7,131.3 1526.3,129.9 1528.9,128.4 1531.5,126.9 1534.1,125.5 1536.8,124.1 1539.4,122.7 1542.1,121.3 1544.8,120.0 1547.5,118.6 1550.2,117.3 1552.9,116.0 1555.6,114.8 1558.3,113.5 1561.1,112.3 1563.8,111.1 1566.6,109.9 1569.4,108.7 1572.2,107.5 1575.0,106.4 1577.8,105.3 1580.6,104.2 1583.4,103.1 1586.2,102.1 1589.1,101.0 1591.9,100.0 1594.8,99.0 1597.6,98.0 1600.5,97.0 1603.4,96.1 1606.2,95.1 1609.1,94.2 1612.0,93.3 1614.9,92.4 1617.8,91.6 1620.7,90.7 1623.6,89.9 1626.5,89.1 1629.5,88.3 1632.4,87.5 1635.3,86.8 1638.2,86.0 1641.2,85.3 1644.1,84.6 1647.0,83.9 1650.0,83.3 1652.9,82.6 1655.9,81.9 1658.8,81.3 1661.8,80.7 1664.7,80.1 1667.7,79.5 1670.6,79.0 1673.6,78.4 1676.6,77.9 1679.5,77.3 1682.5,76.8 1685.5,76.3 1688.4,75.8 1691.4,75.4 1694.4,74.9 1697.4,74.5 1700.4,74.0 1703.3,73.6 1706.3,73.2 1709.3,72.8 1712.3,72.4 1715.3,72.0 1718.3,71.7 1721.3,71.3 1724.3,71.0 1727.3,70.6 1730.2,70.3 1733.2,70.0 1736.2,69.7 1739.2,69.4 1742.2,69.1 1745.2,68.8 1748.2,68.6 1751.2,68.3 1754.2,68.0 1757.2,67.8 1760.2,67.6 1763.3,67.3 1766.3,67.1 1769.3,66.9 1772.3,66.7 1775.3,66.5 1778.3,66.3 1781.3,66.1 1784.3,66.0 1787.3,65.8 1790.3,65.6 1793.3,65.5 1796.3,65.3 1799.3,65.2 1802.3,65.0 1805.3,64.9 1808.3,64.7 1811.3,64.6 1814.3,64.5 1817.3,64.4 1820.3,64.3 1823.3,64.1 1826.3,64.0 1829.3,63.9 1832.3,63.8 1835.3,63.7 1838.3,63.6 1841.2,63.5 1844.2,63.4 1847.2,63.3 1850.2,63.2 1853.2,63.1 1856.2,63.1 1859.2,63.0 1862.1,62.9 1865.1,62.8 1868.1,62.7 1871.1,62.7 1874.1,62.6 1877.0,62.5 1880.0,62.5 1883.0,62.4 1886.0,62.3 1888.9,62.3 1891.9,62.2 1894.9,62.2 1897.9,62.1 1900.8,62.1 1903.8,62.0 1906.8,62.0 1909.7,61.9 1912.7,61.9 1915.7,61.9 1918.7,61.8 1921.6,61.8 1924.6,61.7 1927.6,61.7 1930.5,61.7 1933.5,61.7 1936.5,61.6 1939.5,61.6 1942.4,61.6 1945.4,61.5 1948.4,61.5 1951.3,61.5 1954.3,61.5 1957.3,61.5 1960.2,61.5 1963.2,61.4 1966.2,61.4 1969.2,61.4 1972.1,61.4 1975.1,61.4 1978.1,61.4 1981.0,61.4 1984.0,61.4 1987.0,61.4 1990.0,61.4 1992.9,61.4 1995.9,61.4 1998.9,61.4 2001.9,61.4 2004.8,61.4 2007.8,61.4 2010.8,61.4 2013.8,61.4 2016.8,61.4 2019.8,61.4 2022.7,61.4 2025.7,61.4 2028.7,61.4 2031.7,61.4 2034.7,61.4 2037.7,61.4 2040.7,61.4 2043.6,61.5 2046.6,61.5 2049.6,61.5 2052.6,61.5 2055.6,61.5 2058.6,61.5 2061.6,61.5 2064.6,61.5 2067.6,61.6 2070.6,61.6 2073.6,61.6 2076.6,61.6 2079.6,61.6 2082.6,61.6 2085.7,61.6 2088.7,61.7 2091.7,61.7 2094.7,61.7 2097.7,61.7 2100.7,61.7 2103.8,61.7 2106.8,61.8 2109.8,61.8 2112.8,61.8 2115.9,61.8 2118.9,61.8 2121.9,61.8 2125.0,61.8 2128.0,61.8 2131.0,61.9 2134.1,61.9 2137.1,61.9 2140.2,61.9 2143.2,61.9 2146.3,61.9 2149.3,61.9 2152.4,61.9 2155.4,61.9 2158.5,61.9 2161.6,62.0 2164.6,62.0 2167.7,62.0 2170.8,62.0 2173.8,62.0 2176.9,62.0 2180.0,62.0" stroke="#0000ff" stroke-width="6.0" stroke-dasharray="0.0 7.1 36.0 22.0 36.0 22.0 36.0 22.0 36.0 22.0 36.0 22.0 36.0 21.2 36.0 26.9 36.0 29.7 36.0 35.8 36.0 32.7 36.0 8.7 36.0 38.9 36.0 39.3 36.0 39.5 36.0 39.2 36.0 33.0 36.0 38.9 36.0 38.8 36.0 35.9 36.0 35.9 36.0 36.0 36.0 39.0 36.0 39.1 36.0 39.4 36.0 39.6 36.0 44.8 36.0 38.0 36.0 35.8 36.0 30.5 36.0 33.3 36.0 30.3 36.0 30.0 36.0 30.0 36.0 30.0 36.0 30.0 36.0 30.0 36.0 30.0 36.0 102.9"/>
<path d="M327.0,1413.0L330.0,1413.0 333.0,1413.0 336.0,1413.0 339.0,1413.0 342.0,1413.0 345.0,1413.0 348.0,1413.0 351.1,1413.0 354.1,1413.0 357.1,1413.0 360.1,1413.0 363.1,1413.0 366.1,1413.0 369.1,1413.0 372.1,1413.0 375.1,1413.0 378.1,1413.0 381.1,1413.0 384.1,1413.0 387.1,1413.0 390.1,1413.0 393.1,1413.0 396.1,1413.0 399.2,1413.0 402.2,1413.0 405.2,1413.0 408.2,1413.0 411.2,1413.0 414.2,1413.0 417.2,1413.0 420.2,1413.0 423.2,1412.9 426.2,1412.9 429.2,1412.9 432.2,1412.9 435.2,1412.9 438.2,1412.9 441.2,1412.9 444.2,1412.8 447.2,1412.8 450.2,1412.8 453.2,1412.8 456.2,1412.8 459.2,1412.7 462.2,1412.7 465.2,1412.7 468.2,1412.7 471.2,1412.6 474.2,1412.6 477.2,1412.6 480.2,1412.6 483.1,1412.5 486.1,1412.5 489.1,1412.5 492.1,1412.4 495.1,1412.4 498.1,1412.3 501.1,1412.3 504.1,1412.3 507.1,1412.2 510.1,1412.2 513.1,1412.1 516.1,1412.1 519.1,1412.0 522.1,1412.0 525.1,1411.9 528.1,1411.9 531.1,1411.8 534.1,1411.8 537.1,1411.7 540.1,1411.7 543.1,1411.6 546.1,1411.5 549.1,1411.5 552.1,1411.4 555.1,1411.3 558.1,1411.3 561.1,1411.2 564.1,1411.1 567.1,1411.0 570.1,1411.0 573.1,1410.9 576.1,1410.8 579.1,1410.7 582.1,1410.6 585.1,1410.6 588.1,1410.5 591.1,1410.4 594.1,1410.3 597.1,1410.2 600.1,1410.1 603.1,1410.0 606.2,1409.9 609.2,1409.8 612.2,1409.7 615.2,1409.6 618.2,1409.5 621.2,1409.4 624.2,1409.2 627.2,1409.1 630.2,1409.0 633.2,1408.9 636.2,1408.8 639.2,1408.6 642.2,1408.5 645.3,1408.4 648.3,1408.2 651.3,1408.1 654.3,1408.0 657.3,1407.8 660.3,1407.7 663.3,1407.5 666.3,1407.4 669.4,1407.2 672.4,1407.1 675.4,1406.9 678.4,1406.8 681.4,1406.6 684.4,1406.4 687.5,1406.3 690.5,1406.1 693.5,1405.9 696.5,1405.8 699.5,1405.6 702.5,1405.5 705.5,1405.3 708.5,1405.1 711.5,1405.0 714.5,1404.9 717.5,1404.7 720.5,1404.6 723.4,1404.5 726.4,1404.4 729.3,1404.2 732.3,1404.1 735.2,1404.0 738.1,1403.9 741.1,1403.8 744.0,1403.6 746.9,1403.5 749.8,1403.3 752.7,1403.1 755.5,1402.8 758.4,1402.5 761.3,1402.1 764.2,1401.8 767.0,1401.3 769.9,1400.9 772.8,1400.4 775.6,1399.9 778.5,1399.4 781.4,1398.9 784.3,1398.4 787.2,1397.8 790.0,1397.3 793.0,1396.7 795.9,1396.2 798.8,1395.6 801.7,1395.1 804.7,1394.6 807.6,1394.1 810.6,1393.6 813.6,1393.1 816.6,1392.6 819.6,1392.1 822.6,1391.7 825.6,1391.2 828.7,1390.8 831.7,1390.4 834.7,1390.0 837.7,1389.7 840.8,1389.3 843.8,1389.0 846.8,1388.7 849.9,1388.4 852.9,1388.1 855.9,1387.7 858.9,1387.4 861.9,1387.0 864.9,1386.6 867.8,1386.1 870.8,1385.6 873.7,1385.1 876.6,1384.5 879.5,1383.8 882.3,1383.1 885.1,1382.2 887.9,1381.4 890.7,1380.4 893.5,1379.4 896.3,1378.4 899.0,1377.4 901.8,1376.3 904.5,1375.2 907.3,1374.1 910.1,1373.0 912.8,1372.0 915.6,1370.9 918.4,1369.8 921.2,1368.6 924.0,1367.5 926.8,1366.4 929.6,1365.3 932.3,1364.1 935.1,1363.0 937.9,1361.8 940.7,1360.6 943.4,1359.4 946.2,1358.2 949.0,1357.0 951.7,1355.8 954.5,1354.5 957.2,1353.3 959.9,1352.0 962.6,1350.7 965.4,1349.3 968.0,1348.0 970.7,1346.6 973.4,1345.2 976.1,1343.8 978.7,1342.3 981.3,1340.9 983.9,1339.4 986.5,1337.9 989.1,1336.3 991.6,1334.7 994.2,1333.1 996.7,1331.5 999.2,1329.8 1001.7,1328.2 1004.1,1326.4 1006.6,1324.7 1009.0,1323.0 1011.4,1321.2 1013.8,1319.4 1016.2,1317.5 1018.5,1315.7 1020.9,1313.8 1023.2,1311.9 1025.5,1310.0 1027.8,1308.1 1030.1,1306.1 1032.4,1304.1 1034.6,1302.2 1036.8,1300.1 1039.0,1298.1 1041.3,1296.1 1043.4,1294.0 1045.6,1291.9 1047.8,1289.8 1049.9,1287.7 1052.1,1285.6 1054.2,1283.5 1056.3,1281.3 1058.4,1279.2 1060.5,1277.0 1062.5,1274.8 1064.6,1272.6 1066.6,1270.4 1068.6,1268.2 1070.7,1266.0 1072.7,1263.8 1074.7,1261.5 1076.6,1259.3 1078.6,1257.0 1080.6,1254.7 1082.5,1252.5 1084.4,1250.2 1086.4,1247.9 1088.3,1245.6 1090.2,1243.3 1092.1,1240.9 1093.9,1238.6 1095.8,1236.3 1097.7,1233.9 1099.5,1231.6 1101.4,1229.2 1103.2,1226.8 1105.0,1224.5 1106.8,1222.1 1108.6,1219.7 1110.4,1217.3 1112.1,1214.9 1113.9,1212.4 1115.7,1210.0 1117.4,1207.6 1119.1,1205.1 1120.9,1202.7 1122.6,1200.2 1124.3,1197.8 1126.0,1195.3 1127.6,1192.8 1129.3,1190.4 1131.0,1187.9 1132.6,1185.4 1134.3,1182.9 1135.9,1180.4 1137.6,1177.9 1139.2,1175.3 1140.8,1172.8 1142.4,1170.3 1144.0,1167.7 1145.6,1165.2 1147.2,1162.7 1148.7,1160.1 1150.3,1157.5 1151.8,1155.0 1153.4,1152.4 1154.9,1149.8 1156.5,1147.2 1158.0,1144.7 1159.5,1142.1 1161.0,1139.5 1162.5,1136.9 1164.0,1134.3 1165.5,1131.6 1166.9,1129.0 1168.4,1126.4 1169.9,1123.8 1171.3,1121.2 1172.8,1118.5 1174.2,1115.9 1175.7,1113.2 1177.1,1110.6 1178.5,1107.9 1179.9,1105.3 1181.3,1102.6 1182.7,1100.0 1184.1,1097.3 1185.5,1094.6 1186.9,1092.0 1188.3,1089.3 1189.7,1086.6 1191.0,1083.9 1192.4,1081.2 1193.7,1078.6 1195.1,1075.9 1196.4,1073.2 1197.8,1070.5 1199.1,1067.8 1200.4,1065.1 1201.7,1062.4 1203.1,1059.7 1204.4,1057.0 1205.7,1054.3 1207.0,1051.5 1208.3,1048.8 1209.6,1046.1 1210.9,1043.4 1212.2,1040.7 1213.4,1038.0 1214.7,1035.2 1216.0,1032.5 1217.3,1029.8 1218.5,1027.1 1219.8,1024.3 1221.0,1021.6 1222.3,1018.9 1223.5,1016.1 1224.8,1013.4 1226.0,1010.6 1227.2,1007.9 1228.5,1005.2 1229.7,1002.4 1230.9,999.7 1232.1,996.9 1233.4,994.2 1234.6,991.4 1235.8,988.7 1237.0,985.9 1238.2,983.2 1239.4,980.4 1240.6,977.7 1241.8,974.9 1242.9,972.2 1244.1,969.4 1245.3,966.6 1246.5,963.9 1247.7,961.1 1248.8,958.3 1250.0,955.6 1251.1,952.8 1252.3,950.0 1253.5,947.3 1254.6,944.5 1255.8,941.7 1256.9,938.9 1258.0,936.2 1259.2,933.4 1260.3,930.6 1261.4,927.8 1262.6,925.0 1263.7,922.3 1264.8,919.5 1265.9,916.7 1267.1,913.9 1268.2,911.1 1269.3,908.3 1270.4,905.5 1271.5,902.8 1272.6,900.0 1273.7,897.2 1274.8,894.4 1275.9,891.6 1277.0,888.8 1278.1,886.0 1279.2,883.2 1280.2,880.4 1281.3,877.6 1282.4,874.8 1283.5,872.0 1284.6,869.2 1285.6,866.4 1286.7,863.6 1287.8,860.8 1288.8,858.0 1289.9,855.2 1291.0,852.4 1292.0,849.5 1293.1,846.7 1294.1,843.9 1295.2,841.1 1296.2,838.3 1297.3,835.5 1298.3,832.7 1299.4,829.9 1300.4,827.1 1301.5,824.2 1302.5,821.4 1303.5,818.6 1304.6,815.8 1305.6,813.0 1306.6,810.2 1307.7,807.3 1308.7,804.5 1309.7,801.7 1310.8,798.9 1311.8,796.1 1312.8,793.2 1313.8,790.4 1314.8,787.6 1315.9,784.8 1316.9,781.9 1317.9,779.1 1318.9,776.3 1319.9,773.5 1320.9,770.6 1321.9,767.8 1323.0,765.0 1324.0,762.2 1325.0,759.3 1326.0,756.5 1327.0,753.7 1328.0,750.8 1329.0,748.0 1330.0,745.2 1331.0,742.3 1332.0,739.5 1333.0,736.7 1334.0,733.9 1335.0,731.0 1336.0,728.2 1337.0,725.4 1338.0,722.5 1339.0,719.7 1340.0,716.9 1341.0,714.0 1342.0,711.2 1343.0,708.4 1343.9,705.5 1344.9,702.7 1345.9,699.9 1346.9,697.0 1347.9,694.2 1348.9,691.4 1349.9,688.5 1350.9,685.7 1351.9,682.9 1352.9,680.0 1353.9,677.2 1354.8,674.4 1355.8,671.5 1356.8,668.7 1357.8,665.9 1358.8,663.0 1359.8,660.2 1360.8,657.4 1361.8,654.5 1362.8,651.7 1363.7,648.9 1364.7,646.0 1365.7,643.2 1366.7,640.4 1367.7,637.5 1368.7,634.7 1369.7,631.9 1370.7,629.0 1371.7,626.2 1372.7,623.4 1373.7,620.5 1374.7,617.7 1375.7,614.9 1376.7,612.1 1377.7,609.2 1378.6,606.4 1379.6,603.6 1380.6,600.7 1381.7,597.9 1382.7,595.1 1383.7,592.3 1384.7,589.4 1385.7,586.6 1386.7,583.8 1387.7,581.0 1388.7,578.1 1389.7,575.3 1390.7,572.5 1391.7,569.7 1392.8,566.8 1393.8,564.0 1394.8,561.2 1395.8,558.4 1396.9,555.6 1397.9,552.7 1398.9,549.9 1399.9,547.1 1401.0,544.3 1402.0,541.5 1403.1,538.6 1404.1,535.8 1405.1,533.0 1406.2,530.2 1407.2,527.4 1408.3,524.6 1409.3,521.8 1410.4,519.0 1411.4,516.2 1412.5,513.4 1413.6,510.5 1414.6,507.7 1415.7,504.9 1416.8,502.1 1417.9,499.3 1418.9,496.5 1420.0,493.7 1421.1,490.9 1422.2,488.1 1423.3,485.3 1424.4,482.5 1425.5,479.7 1426.6,476.9 1427.7,474.2 1428.8,471.4 1429.9,468.6 1431.0,465.8 1432.1,463.0 1433.3,460.2 1434.4,457.4 1435.5,454.6 1436.7,451.9 1437.8,449.1 1438.9,446.3 1440.1,443.5 1441.2,440.7 1442.4,438.0 1443.6,435.2 1444.7,432.4 1445.9,429.7 1447.1,426.9 1448.2,424.1 1449.4,421.4 1450.6,418.6 1451.8,415.8 1453.0,413.1 1454.2,410.3 1455.4,407.5 1456.6,404.8 1457.8,402.0 1459.1,399.3 1460.3,396.5 1461.5,393.8 1462.8,391.0 1464.0,388.3 1465.2,385.5 1466.5,382.8 1467.8,380.1 1469.0,377.3 1470.3,374.6 1471.6,371.9 1472.9,369.1 1474.1,366.4 1475.4,363.7 1476.7,361.0 1478.1,358.2 1479.4,355.5 1480.7,352.8 1482.0,350.1 1483.4,347.4 1484.7,344.7 1486.1,342.0 1487.4,339.4 1488.8,336.7 1490.2,334.0 1491.6,331.3 1493.0,328.7 1494.4,326.0 1495.8,323.4 1497.2,320.7 1498.6,318.1 1500.1,315.4 1501.5,312.8 1503.0,310.2 1504.5,307.5 1505.9,304.9 1507.4,302.3 1508.9,299.7 1510.4,297.1 1512.0,294.5 1513.5,291.9 1515.0,289.4 1516.6,286.8 1518.1,284.2 1519.7,281.7 1521.3,279.1 1522.9,276.6 1524.5,274.1 1526.1,271.6 1527.7,269.0 1529.4,266.5 1531.0,264.0 1532.7,261.6 1534.4,259.1 1536.0,256.6 1537.7,254.1 1539.5,251.7 1541.2,249.2 1542.9,246.8 1544.7,244.4 1546.4,242.0 1548.2,239.6 1550.0,237.2 1551.8,234.8 1553.6,232.4 1555.5,230.0 1557.3,227.7 1559.2,225.3 1561.0,223.0 1562.9,220.7 1564.8,218.4 1566.7,216.1 1568.7,213.8 1570.6,211.5 1572.6,209.2 1574.5,207.0 1576.5,204.7 1578.5,202.5 1580.6,200.3 1582.6,198.1 1584.6,195.9 1586.7,193.7 1588.8,191.5 1590.9,189.4 1593.0,187.2 1595.1,185.1 1597.3,183.0 1599.5,180.9 1601.6,178.8 1603.8,176.8 1606.0,174.7 1608.3,172.7 1610.5,170.7 1612.8,168.7 1615.1,166.8 1617.3,164.8 1619.7,162.9 1622.0,161.0 1624.3,159.1 1626.7,157.3 1629.1,155.4 1631.5,153.6 1633.9,151.8 1636.3,150.1 1638.7,148.3 1641.2,146.6 1643.7,144.9 1646.2,143.3 1648.7,141.6 1651.2,140.0 1653.8,138.5 1656.3,136.9 1658.9,135.4 1661.5,133.9 1664.1,132.5 1666.7,131.0 1669.4,129.6 1672.1,128.3 1674.7,126.9 1677.4,125.6 1680.2,124.4 1682.9,123.1 1685.6,121.9 1688.4,120.7 1691.2,119.5 1694.0,118.4 1696.8,117.3 1699.6,116.2 1702.4,115.1 1705.2,114.1 1708.0,113.0 1710.9,112.0 1713.7,111.0 1716.6,110.0 1719.4,109.1 1722.3,108.1 1725.2,107.2 1728.0,106.2 1730.9,105.3 1733.8,104.4 1736.7,103.5 1739.5,102.7 1742.4,101.8 1745.3,101.0 1748.2,100.1 1751.1,99.3 1754.0,98.5 1756.9,97.6 1759.8,96.8 1762.7,96.1 1765.6,95.3 1768.5,94.5 1771.4,93.8 1774.3,93.0 1777.2,92.3 1780.1,91.5 1783.0,90.8 1785.9,90.1 1788.9,89.4 1791.8,88.8 1794.7,88.1 1797.6,87.4 1800.5,86.8 1803.5,86.1 1806.4,85.5 1809.3,84.9 1812.2,84.3 1815.2,83.7 1818.1,83.1 1821.1,82.5 1824.0,81.9 1826.9,81.4 1829.9,80.8 1832.8,80.3 1835.8,79.7 1838.7,79.2 1841.7,78.7 1844.6,78.2 1847.6,77.7 1850.5,77.2 1853.5,76.8 1856.4,76.3 1859.4,75.8 1862.3,75.4 1865.3,75.0 1868.3,74.5 1871.2,74.1 1874.2,73.7 1877.2,73.3 1880.1,72.9 1883.1,72.5 1886.1,72.2 1889.0,71.8 1892.0,71.4 1895.0,71.1 1898.0,70.8 1901.0,70.4 1903.9,70.1 1906.9,69.8 1909.9,69.5 1912.9,69.2 1915.9,68.9 1918.8,68.6 1921.8,68.3 1924.8,68.0 1927.8,67.8 1930.8,67.5 1933.8,67.3 1936.8,67.0 1939.8,66.8 1942.8,66.6 1945.8,66.3 1948.8,66.1 1951.7,65.9 1954.7,65.7 1957.7,65.5 1960.7,65.3 1963.7,65.1 1966.7,65.0 1969.7,64.8 1972.7,64.6 1975.7,64.5 1978.7,64.3 1981.7,64.2 1984.7,64.0 1987.7,63.9 1990.8,63.7 1993.8,63.6 1996.8,63.5 1999.8,63.4 2002.8,63.3 2005.8,63.2 2008.8,63.1 2011.8,63.0 2014.8,62.9 2017.8,62.8 2020.8,62.7 2023.8,62.6 2026.8,62.5 2029.8,62.5 2032.8,62.4 2035.9,62.3 2038.9,62.3 2041.9,62.2 2044.9,62.2 2047.9,62.1 2050.9,62.1 2053.9,62.0 2056.9,62.0 2059.9,62.0 2062.9,61.9 2065.9,61.9 2068.9,61.9 2072.0,61.9 2075.0,61.8 2078.0,61.8 2081.0,61.8 2084.0,61.8 2087.0,61.8 2090.0,61.8 2093.0,61.8 2096.0,61.8 2099.0,61.8 2102.0,61.8 2105.0,61.8 2108.0,61.8 2111.0,61.8 2114.0,61.8 2117.0,61.8 2120.0,61.8 2123.0,61.8 2126.0,61.8 2129.0,61.8 2132.0,61.8 2135.0,61.9 2138.0,61.9 2141.0,61.9 2144.0,61.9 2147.0,61.9 2150.0,61.9 2153.0,62.0 2156.0,62.0 2159.0,62.0 2162.0,62.0 2165.0,62.0 2168.0,62.1 2171.0,62.1 2173.9,62.1 2176.9,62.1 2179.9,62.1" stroke="#000000" stroke-width="6.0"/>
<path d="M327.0,1402.6L330.0,1402.7 333.0,1402.8 336.0,1403.0 339.0,1403.1 342.0,1403.2 345.0,1403.3 348.0,1403.4 351.0,1403.5 354.0,1403.6 357.0,1403.7 360.0,1403.8 363.0,1403.9 366.0,1404.0 369.0,1404.1 372.0,1404.1 375.0,1404.2 378.0,1404.3 381.0,1404.3 384.0,1404.4 387.0,1404.4 390.0,1404.5 393.0,1404.5 396.0,1404.5 399.0,1404.6 402.0,1404.6 405.0,1404.6 408.1,1404.6 411.1,1404.6 414.1,1404.7 417.1,1404.7 420.1,1404.6 423.1,1404.6 426.1,1404.6 429.1,1404.6 432.1,1404.6 435.1,1404.5 438.1,1404.5 441.1,1404.5 444.1,1404.4 447.1,1404.4 450.1,1404.3 453.1,1404.2 456.1,1404.2 459.1,1404.1 462.1,1404.0 465.1,1403.9 468.1,1403.8 471.1,1403.7 474.1,1403.6 477.1,1403.5 480.1,1403.4 483.1,1403.3 486.1,1403.2 489.1,1403.0 492.1,1402.9 495.1,1402.7 498.1,1402.6 501.1,1402.4 504.1,1402.3 507.1,1402.1 510.1,1401.9 513.1,1401.7 516.1,1401.5 519.1,1401.4 522.0,1401.2 525.0,1400.9 528.0,1400.7 531.0,1400.5 534.0,1400.3 537.0,1400.1 540.0,1399.8 543.0,1399.6 546.0,1399.3 549.0,1399.1 552.0,1398.8 554.9,1398.5 557.9,1398.2 560.9,1398.0 563.9,1397.7 566.9,1397.4 569.9,1397.1 572.8,1396.7 575.8,1396.4 578.8,1396.1 581.8,1395.8 584.8,1395.4 587.8,1395.1 590.7,1394.7 593.7,1394.4 596.7,1394.0 599.7,1393.6 602.6,1393.2 605.6,1392.8 608.6,1392.4 611.6,1392.0 614.5,1391.6 617.5,1391.2 620.5,1390.8 623.4,1390.3 626.4,1389.9 629.4,1389.4 632.3,1389.0 635.3,1388.5 638.3,1388.0 641.2,1387.6 644.2,1387.1 647.1,1386.6 650.1,1386.1 653.1,1385.6 656.0,1385.0 659.0,1384.5 661.9,1384.0 664.9,1383.4 667.8,1382.9 670.8,1382.3 673.7,1381.7 676.7,1381.2 679.6,1380.6 682.6,1380.0 685.5,1379.4 688.5,1378.8 691.4,1378.2 694.3,1377.5 697.3,1376.9 700.2,1376.3 703.2,1375.6 706.1,1375.0 709.0,1374.3 712.0,1373.6 714.9,1372.9 717.8,1372.2 720.8,1371.5 723.7,1370.8 726.6,1370.1 729.5,1369.4 732.5,1368.6 735.4,1367.9 738.3,1367.1 741.2,1366.4 744.1,1365.6 747.0,1364.8 750.0,1364.0 752.9,1363.2 755.8,1362.4 758.6,1361.5 761.5,1360.6 764.4,1359.7 767.2,1358.8 770.1,1357.8 772.9,1356.8 775.7,1355.7 778.5,1354.7 781.3,1353.5 784.0,1352.4 786.7,1351.1 789.4,1349.9 792.1,1348.6 794.8,1347.2 797.4,1345.8 800.0,1344.3 802.6,1342.7 805.1,1341.1 807.6,1339.4 810.1,1337.7 812.5,1335.9 814.8,1334.0 817.0,1332.0 819.2,1330.2 821.6,1328.8 824.2,1327.9 827.1,1327.5 830.0,1327.3 833.1,1327.3 836.2,1327.3 839.2,1327.1 842.2,1326.7 845.0,1325.9 847.7,1324.8 850.3,1323.4 852.8,1321.9 855.3,1320.2 857.8,1318.5 860.4,1316.8 863.0,1315.2 865.6,1313.6 868.2,1312.0 870.8,1310.5 873.5,1308.9 876.2,1307.4 878.8,1305.9 881.4,1304.3 884.0,1302.8 886.6,1301.2 889.1,1299.5 891.5,1297.9 893.9,1296.1 896.2,1294.3 898.4,1292.4 900.6,1290.4 902.6,1288.3 904.5,1286.0 906.3,1283.7 908.0,1281.3 909.6,1278.8 911.2,1276.3 912.9,1273.8 914.7,1271.4 916.6,1269.2 918.7,1267.1 920.8,1265.1 923.0,1263.1 925.3,1261.2 927.6,1259.3 929.8,1257.4 932.1,1255.5 934.4,1253.6 936.6,1251.7 938.9,1249.7 941.1,1247.7 943.3,1245.8 945.6,1243.8 947.8,1241.8 950.0,1239.8 952.2,1237.7 954.3,1235.7 956.5,1233.6 958.7,1231.6 960.8,1229.5 963.0,1227.4 965.1,1225.3 967.2,1223.2 969.3,1221.1 971.5,1218.9 973.5,1216.8 975.6,1214.6 977.7,1212.5 979.8,1210.3 981.8,1208.1 983.9,1205.9 985.9,1203.7 988.0,1201.5 990.0,1199.3 992.0,1197.0 994.0,1194.8 996.0,1192.5 998.0,1190.3 1000.0,1188.0 1001.9,1185.7 1003.9,1183.4 1005.8,1181.1 1007.8,1178.8 1009.7,1176.5 1011.6,1174.2 1013.5,1171.8 1015.5,1169.5 1017.3,1167.1 1019.2,1164.8 1021.1,1162.4 1023.0,1160.0 1024.8,1157.7 1026.7,1155.3 1028.5,1152.9 1030.3,1150.5 1032.1,1148.1 1033.9,1145.7 1035.7,1143.3 1037.5,1140.8 1039.3,1138.4 1041.1,1136.0 1042.8,1133.5 1044.6,1131.1 1046.3,1128.6 1048.1,1126.2 1049.8,1123.7 1051.5,1121.2 1053.2,1118.8 1054.9,1116.3 1056.6,1113.8 1058.2,1111.3 1059.9,1108.8 1061.6,1106.3 1063.2,1103.8 1064.9,1101.3 1066.5,1098.8 1068.1,1096.3 1069.7,1093.8 1071.3,1091.2 1072.9,1088.7 1074.5,1086.2 1076.1,1083.6 1077.6,1081.1 1079.2,1078.5 1080.8,1076.0 1082.3,1073.4 1083.8,1070.9 1085.4,1068.3 1086.9,1065.7 1088.4,1063.1 1089.9,1060.6 1091.4,1058.0 1092.9,1055.4 1094.4,1052.8 1095.8,1050.2 1097.3,1047.6 1098.8,1045.0 1100.2,1042.4 1101.7,1039.8 1103.1,1037.1 1104.5,1034.5 1105.9,1031.9 1107.4,1029.3 1108.8,1026.6 1110.2,1024.0 1111.6,1021.3 1113.0,1018.7 1114.3,1016.1 1115.7,1013.4 1117.1,1010.7 1118.4,1008.1 1119.8,1005.4 1121.1,1002.8 1122.5,1000.1 1123.8,997.4 1125.1,994.7 1126.5,992.1 1127.8,989.4 1129.1,986.7 1130.4,984.0 1131.7,981.3 1133.0,978.6 1134.3,975.9 1135.6,973.2 1136.8,970.5 1138.1,967.8 1139.4,965.1 1140.6,962.4 1141.9,959.7 1143.1,956.9 1144.4,954.2 1145.6,951.5 1146.8,948.8 1148.1,946.0 1149.3,943.3 1150.5,940.6 1151.7,937.8 1152.9,935.1 1154.1,932.3 1155.3,929.6 1156.5,926.8 1157.7,924.1 1158.9,921.3 1160.1,918.6 1161.2,915.8 1162.4,913.1 1163.6,910.3 1164.8,907.5 1165.9,904.8 1167.1,902.0 1168.2,899.2 1169.4,896.4 1170.5,893.7 1171.6,890.9 1172.8,888.1 1173.9,885.3 1175.0,882.5 1176.2,879.8 1177.3,877.0 1178.4,874.2 1179.5,871.4 1180.6,868.6 1181.7,865.8 1182.9,863.0 1184.0,860.2 1185.1,857.4 1186.2,854.6 1187.2,851.8 1188.3,849.0 1189.4,846.2 1190.5,843.4 1191.6,840.6 1192.7,837.8 1193.8,835.0 1194.8,832.2 1195.9,829.4 1197.0,826.5 1198.0,823.7 1199.1,820.9 1200.2,818.1 1201.2,815.3 1202.3,812.5 1203.4,809.6 1204.4,806.8 1205.5,804.0 1206.5,801.2 1207.6,798.4 1208.6,795.5 1209.7,792.7 1210.7,789.9 1211.8,787.1 1212.8,784.2 1213.9,781.4 1214.9,778.6 1216.0,775.7 1217.0,772.9 1218.0,770.1 1219.1,767.3 1220.1,764.4 1221.2,761.6 1222.2,758.8 1223.2,755.9 1224.3,753.1 1225.3,750.3 1226.3,747.5 1227.4,744.6 1228.4,741.8 1229.4,739.0 1230.5,736.1 1231.5,733.3 1232.6,730.5 1233.6,727.6 1234.6,724.8 1235.7,722.0 1236.7,719.2 1237.7,716.3 1238.8,713.5 1239.8,710.7 1240.8,707.8 1241.9,705.0 1242.9,702.2 1243.9,699.4 1245.0,696.5 1246.0,693.7 1247.1,690.9 1248.1,688.0 1249.1,685.2 1250.2,682.4 1251.2,679.6 1252.3,676.7 1253.3,673.9 1254.4,671.1 1255.4,668.3 1256.5,665.5 1257.5,662.6 1258.6,659.8 1259.6,657.0 1260.7,654.2 1261.7,651.4 1262.8,648.6 1263.9,645.7 1264.9,642.9 1266.0,640.1 1267.0,637.3 1268.1,634.5 1269.2,631.7 1270.3,628.9 1271.3,626.1 1272.4,623.3 1273.5,620.5 1274.6,617.7 1275.6,614.8 1276.7,612.0 1277.8,609.2 1278.9,606.5 1280.0,603.7 1281.1,600.9 1282.2,598.1 1283.3,595.3 1284.4,592.5 1285.5,589.7 1286.6,586.9 1287.7,584.1 1288.9,581.3 1290.0,578.5 1291.1,575.8 1292.2,573.0 1293.4,570.2 1294.5,567.4 1295.6,564.7 1296.8,561.9 1297.9,559.1 1299.1,556.3 1300.2,553.6 1301.4,550.8 1302.5,548.0 1303.7,545.3 1304.8,542.5 1306.0,539.8 1307.2,537.0 1308.4,534.3 1309.6,531.5 1310.7,528.8 1311.9,526.0 1313.1,523.3 1314.3,520.5 1315.5,517.8 1316.7,515.1 1318.0,512.3 1319.2,509.6 1320.4,506.9 1321.6,504.1 1322.9,501.4 1324.1,498.7 1325.3,496.0 1326.6,493.2 1327.8,490.5 1329.1,487.8 1330.4,485.1 1331.6,482.4 1332.9,479.7 1334.2,477.0 1335.5,474.3 1336.7,471.6 1338.0,468.9 1339.3,466.2 1340.7,463.5 1342.0,460.8 1343.3,458.2 1344.6,455.5 1345.9,452.8 1347.3,450.1 1348.6,447.5 1350.0,444.8 1351.3,442.1 1352.7,439.5 1354.0,436.8 1355.4,434.2 1356.8,431.5 1358.2,428.9 1359.6,426.2 1361.0,423.6 1362.4,420.9 1363.8,418.3 1365.2,415.7 1366.6,413.1 1368.1,410.4 1369.5,407.8 1370.9,405.2 1372.4,402.6 1373.9,400.0 1375.3,397.4 1376.8,394.8 1378.3,392.2 1379.8,389.6 1381.3,387.0 1382.8,384.4 1384.3,381.8 1385.8,379.2 1387.3,376.7 1388.9,374.1 1390.4,371.5 1391.9,369.0 1393.5,366.4 1395.1,363.8 1396.6,361.3 1398.2,358.7 1399.8,356.2 1401.4,353.7 1403.0,351.1 1404.6,348.6 1406.2,346.1 1407.9,343.5 1409.5,341.0 1411.2,338.5 1412.8,336.0 1414.5,333.5 1416.2,331.0 1417.8,328.5 1419.5,326.0 1421.2,323.5 1423.0,321.0 1424.7,318.6 1426.4,316.1 1428.2,313.7 1430.0,311.3 1431.8,308.9 1433.6,306.5 1435.5,304.1 1437.4,301.8 1439.3,299.5 1441.2,297.2 1443.2,294.9 1445.2,292.7 1447.2,290.5 1449.2,288.3 1451.3,286.2 1453.5,284.1 1455.7,282.0 1457.9,280.0 1460.1,278.1 1462.5,276.1 1464.8,274.2 1467.2,272.4 1469.6,270.6 1472.1,268.8 1474.6,267.1 1477.1,265.3 1479.5,263.5 1482.0,261.7 1484.4,259.9 1486.7,258.0 1489.0,256.1 1491.2,254.1 1493.3,252.0 1495.4,249.8 1497.4,247.6 1499.3,245.3 1501.1,242.9 1502.9,240.6 1504.7,238.1 1506.5,235.7 1508.2,233.2 1510.0,230.7 1511.7,228.3 1513.5,225.8 1515.2,223.4 1517.0,220.9 1518.9,218.5 1520.7,216.2 1522.6,213.8 1524.5,211.4 1526.4,209.1 1528.3,206.8 1530.2,204.5 1532.2,202.3 1534.2,200.0 1536.2,197.8 1538.3,195.6 1540.3,193.4 1542.4,191.2 1544.5,189.1 1546.6,187.0 1548.8,184.8 1550.9,182.8 1553.1,180.7 1555.3,178.6 1557.5,176.6 1559.7,174.6 1562.0,172.6 1564.2,170.7 1566.5,168.7 1568.8,166.8 1571.1,164.9 1573.4,163.0 1575.8,161.1 1578.1,159.3 1580.5,157.4 1582.9,155.6 1585.3,153.8 1587.8,152.1 1590.2,150.3 1592.6,148.6 1595.1,146.9 1597.6,145.2 1600.1,143.5 1602.6,141.9 1605.1,140.2 1607.7,138.6 1610.2,137.0 1612.8,135.5 1615.3,133.9 1617.9,132.4 1620.5,130.9 1623.1,129.4 1625.8,127.9 1628.4,126.5 1631.0,125.0 1633.7,123.6 1636.3,122.2 1639.0,120.9 1641.7,119.5 1644.4,118.2 1647.1,116.9 1649.8,115.6 1652.5,114.3 1655.2,113.1 1658.0,111.9 1660.7,110.6 1663.5,109.5 1666.2,108.3 1669.0,107.1 1671.8,106.0 1674.6,104.9 1677.3,103.8 1680.1,102.7 1682.9,101.7 1685.7,100.7 1688.6,99.6 1691.4,98.6 1694.2,97.7 1697.0,96.7 1699.9,95.8 1702.7,94.9 1705.6,94.0 1708.4,93.1 1711.3,92.2 1714.1,91.4 1717.0,90.5 1719.9,89.7 1722.8,88.9 1725.7,88.1 1728.6,87.4 1731.5,86.6 1734.4,85.9 1737.3,85.1 1740.2,84.4 1743.1,83.8 1746.0,83.1 1748.9,82.4 1751.9,81.8 1754.8,81.2 1757.7,80.5 1760.7,79.9 1763.6,79.3 1766.5,78.8 1769.5,78.2 1772.4,77.7 1775.4,77.1 1778.4,76.6 1781.3,76.1 1784.3,75.6 1787.2,75.1 1790.2,74.7 1793.2,74.2 1796.2,73.8 1799.1,73.3 1802.1,72.9 1805.1,72.5 1808.1,72.1 1811.1,71.7 1814.1,71.3 1817.0,71.0 1820.0,70.6 1823.0,70.2 1826.0,69.9 1829.0,69.6 1832.0,69.3 1835.0,69.0 1838.0,68.7 1841.0,68.4 1844.0,68.1 1847.0,67.8 1850.0,67.5 1853.0,67.3 1856.0,67.0 1859.0,66.8 1862.0,66.6 1865.0,66.3 1868.0,66.1 1871.0,65.9 1874.0,65.7 1877.0,65.5 1880.0,65.3 1883.0,65.1 1886.0,64.9 1889.0,64.8 1892.0,64.6 1895.0,64.4 1898.0,64.3 1901.0,64.1 1904.0,64.0 1907.0,63.8 1910.0,63.7 1913.0,63.6 1916.0,63.5 1919.0,63.3 1922.0,63.2 1925.0,63.1 1928.0,63.0 1930.9,62.9 1933.9,62.8 1936.9,62.8 1939.9,62.7 1942.9,62.6 1945.9,62.5 1948.9,62.5 1951.9,62.4 1954.9,62.3 1957.9,62.3 1960.9,62.2 1963.9,62.2 1966.9,62.1 1969.9,62.1 1972.9,62.0 1975.9,62.0 1978.9,62.0 1981.9,61.9 1984.9,61.9 1987.9,61.9 1990.8,61.9 1993.8,61.9 1996.8,61.8 1999.8,61.8 2002.8,61.8 2005.8,61.8 2008.8,61.8 2011.8,61.8 2014.8,61.8 2017.8,61.8 2020.8,61.8 2023.8,61.8 2026.8,61.8 2029.8,61.8 2032.8,61.8 2035.8,61.8 2038.8,61.9 2041.8,61.9 2044.8,61.9 2047.8,61.9 2050.8,61.9 2053.8,61.9 2056.8,61.9 2059.8,62.0 2062.8,62.0 2065.8,62.0 2068.8,62.0 2071.8,62.0 2074.8,62.0 2077.8,62.1 2080.8,62.1 2083.8,62.1 2086.8,62.1 2089.8,62.1 2092.8,62.1 2095.8,62.1 2098.8,62.2 2101.8,62.2 2104.8,62.2 2107.8,62.2 2110.8,62.2 2113.8,62.2 2116.8,62.2 2119.8,62.2 2122.8,62.2 2125.9,62.2 2128.9,62.2 2131.9,62.2 2134.9,62.2 2137.9,62.2 2140.9,62.2 2143.9,62.2 2146.9,62.2 2149.9,62.1 2153.0,62.1 2156.0,62.1 2159.0,62.1 2162.0,62.0 2165.0,62.0 2168.0,62.0 2171.0,61.9 2174.1,61.9 2177.1,61.8 2180.1,61.8" stroke="#ff0000" stroke-width="6.0"/>
<path d="M327.0,1407.8L330.0,1407.7 333.0,1407.6 336.0,1407.6 339.0,1407.5 342.0,1407.4 345.0,1407.3 348.0,1407.2 351.0,1407.2 354.0,1407.1 357.0,1407.0 360.0,1406.9 363.0,1406.8 366.0,1406.8 369.0,1406.7 372.0,1406.6 375.0,1406.5 378.0,1406.4 381.0,1406.3 384.0,1406.2 387.0,1406.2 390.0,1406.1 393.0,1406.0 396.0,1405.9 399.0,1405.8 402.0,1405.7 405.0,1405.6 408.0,1405.5 411.0,1405.4 414.0,1405.3 417.0,1405.2 420.0,1405.0 423.0,1404.9 426.0,1404.8 429.0,1404.7 432.0,1404.6 435.0,1404.5 438.0,1404.3 441.0,1404.2 444.0,1404.1 447.0,1403.9 450.0,1403.8 453.0,1403.7 456.0,1403.5 459.0,1403.4 462.0,1403.2 465.0,1403.1 468.0,1402.9 471.0,1402.8 474.0,1402.6 477.0,1402.4 480.0,1402.3 483.0,1402.1 486.0,1401.9 489.0,1401.7 492.0,1401.5 495.0,1401.4 498.0,1401.2 501.0,1401.0 504.0,1400.8 507.0,1400.6 510.0,1400.3 513.0,1400.1 515.9,1399.9 518.9,1399.7 521.9,1399.5 524.9,1399.2 527.9,1399.0 530.9,1398.8 533.9,1398.5 536.9,1398.3 539.9,1398.0 542.9,1397.7 545.9,1397.5 548.8,1397.2 551.8,1396.9 554.8,1396.6 557.8,1396.4 560.8,1396.1 563.8,1395.8 566.8,1395.5 569.7,1395.1 572.7,1394.8 575.7,1394.5 578.7,1394.2 581.7,1393.8 584.6,1393.5 587.6,1393.2 590.6,1392.8 593.6,1392.4 596.6,1392.1 599.5,1391.7 602.5,1391.3 605.5,1390.9 608.4,1390.5 611.4,1390.1 614.4,1389.7 617.4,1389.3 620.3,1388.9 623.3,1388.5 626.3,1388.0 629.2,1387.6 632.2,1387.2 635.2,1386.7 638.1,1386.2 641.1,1385.8 644.0,1385.3 647.0,1384.8 650.0,1384.3 652.9,1383.8 655.9,1383.3 658.8,1382.8 661.8,1382.3 664.7,1381.7 667.7,1381.2 670.6,1380.6 673.6,1380.1 676.5,1379.5 679.5,1378.9 682.4,1378.3 685.4,1377.8 688.3,1377.2 691.2,1376.5 694.2,1375.9 697.1,1375.3 700.1,1374.7 703.0,1374.0 705.9,1373.4 708.9,1372.7 711.8,1372.0 714.7,1371.4 717.6,1370.7 720.6,1370.0 723.5,1369.3 726.4,1368.5 729.3,1367.8 732.3,1367.1 735.2,1366.3 738.1,1365.6 741.0,1364.8 743.9,1364.0 746.8,1363.2 749.7,1362.4 752.6,1361.6 755.5,1360.7 758.4,1359.9 761.3,1359.0 764.1,1358.0 767.0,1357.1 769.8,1356.1 772.6,1355.0 775.4,1354.0 778.2,1352.9 781.0,1351.7 783.7,1350.5 786.4,1349.2 789.1,1347.9 791.7,1346.6 794.4,1345.1 797.0,1343.7 799.5,1342.1 802.0,1340.5 804.5,1338.8 807.0,1337.1 809.4,1335.2 811.8,1333.3 814.1,1331.4 816.4,1329.4 818.6,1327.6 821.0,1326.1 823.6,1325.2 826.4,1324.7 829.3,1324.5 832.3,1324.4 835.4,1324.4 838.4,1324.2 841.3,1323.7 844.1,1322.9 846.9,1321.7 849.6,1320.4 852.2,1319.1 854.9,1317.6 857.5,1316.2 860.1,1314.7 862.7,1313.2 865.3,1311.7 867.9,1310.1 870.5,1308.5 873.0,1306.9 875.5,1305.2 878.0,1303.5 880.5,1301.8 882.9,1300.1 885.4,1298.4 887.8,1296.6 890.2,1294.8 892.5,1293.0 894.9,1291.1 897.2,1289.3 899.6,1287.4 901.9,1285.5 904.2,1283.6 906.4,1281.7 908.7,1279.7 911.0,1277.8 913.2,1275.8 915.4,1273.8 917.6,1271.8 919.8,1269.7 922.0,1267.7 924.1,1265.6 926.3,1263.6 928.4,1261.5 930.6,1259.4 932.7,1257.3 934.8,1255.2 936.9,1253.1 939.0,1250.9 941.1,1248.8 943.2,1246.6 945.2,1244.5 947.3,1242.3 949.4,1240.1 951.4,1238.0 953.5,1235.8 955.5,1233.6 957.5,1231.4 959.6,1229.2 961.6,1227.0 963.6,1224.7 965.6,1222.5 967.6,1220.3 969.6,1218.1 971.6,1215.8 973.6,1213.6 975.6,1211.3 977.6,1209.1 979.6,1206.8 981.5,1204.5 983.5,1202.3 985.4,1200.0 987.4,1197.7 989.3,1195.4 991.2,1193.1 993.2,1190.8 995.1,1188.5 997.0,1186.2 998.9,1183.9 1000.8,1181.6 1002.7,1179.2 1004.6,1176.9 1006.5,1174.6 1008.3,1172.2 1010.2,1169.9 1012.1,1167.5 1013.9,1165.1 1015.7,1162.8 1017.6,1160.4 1019.4,1158.0 1021.2,1155.6 1023.0,1153.2 1024.8,1150.8 1026.6,1148.4 1028.4,1146.0 1030.2,1143.6 1032.0,1141.2 1033.7,1138.8 1035.5,1136.3 1037.3,1133.9 1039.0,1131.5 1040.7,1129.0 1042.5,1126.6 1044.2,1124.1 1045.9,1121.6 1047.6,1119.2 1049.3,1116.7 1051.0,1114.2 1052.6,1111.7 1054.3,1109.3 1055.9,1106.8 1057.6,1104.3 1059.2,1101.7 1060.9,1099.2 1062.5,1096.7 1064.1,1094.2 1065.7,1091.7 1067.3,1089.1 1068.9,1086.6 1070.5,1084.1 1072.0,1081.5 1073.6,1078.9 1075.1,1076.4 1076.7,1073.8 1078.2,1071.3 1079.7,1068.7 1081.2,1066.1 1082.7,1063.5 1084.2,1060.9 1085.7,1058.3 1087.2,1055.7 1088.7,1053.1 1090.1,1050.5 1091.6,1047.9 1093.0,1045.3 1094.5,1042.7 1095.9,1040.0 1097.3,1037.4 1098.8,1034.8 1100.2,1032.1 1101.6,1029.5 1103.0,1026.8 1104.4,1024.2 1105.7,1021.5 1107.1,1018.9 1108.5,1016.2 1109.8,1013.5 1111.2,1010.9 1112.6,1008.2 1113.9,1005.5 1115.2,1002.8 1116.6,1000.2 1117.9,997.5 1119.2,994.8 1120.5,992.1 1121.8,989.4 1123.2,986.7 1124.5,984.0 1125.7,981.3 1127.0,978.6 1128.3,975.9 1129.6,973.2 1130.9,970.5 1132.2,967.7 1133.4,965.0 1134.7,962.3 1136.0,959.6 1137.2,956.9 1138.5,954.1 1139.7,951.4 1141.0,948.7 1142.2,945.9 1143.4,943.2 1144.7,940.5 1145.9,937.7 1147.1,935.0 1148.4,932.2 1149.6,929.5 1150.8,926.8 1152.0,924.0 1153.2,921.3 1154.5,918.5 1155.7,915.8 1156.9,913.0 1158.1,910.3 1159.3,907.5 1160.5,904.8 1161.7,902.0 1162.9,899.3 1164.1,896.5 1165.3,893.8 1166.5,891.0 1167.7,888.2 1168.9,885.5 1170.1,882.7 1171.3,880.0 1172.5,877.2 1173.7,874.5 1174.9,871.7 1176.1,868.9 1177.3,866.2 1178.4,863.4 1179.6,860.7 1180.8,857.9 1182.0,855.1 1183.2,852.4 1184.4,849.6 1185.6,846.8 1186.7,844.1 1187.9,841.3 1189.1,838.6 1190.3,835.8 1191.5,833.0 1192.6,830.3 1193.8,827.5 1195.0,824.7 1196.2,822.0 1197.3,819.2 1198.5,816.4 1199.7,813.7 1200.8,810.9 1202.0,808.1 1203.2,805.4 1204.4,802.6 1205.5,799.8 1206.7,797.1 1207.9,794.3 1209.0,791.5 1210.2,788.8 1211.4,786.0 1212.5,783.2 1213.7,780.5 1214.9,777.7 1216.0,774.9 1217.2,772.2 1218.3,769.4 1219.5,766.6 1220.7,763.9 1221.8,761.1 1223.0,758.3 1224.2,755.6 1225.3,752.8 1226.5,750.0 1227.6,747.3 1228.8,744.5 1230.0,741.7 1231.1,739.0 1232.3,736.2 1233.4,733.4 1234.6,730.6 1235.8,727.9 1236.9,725.1 1238.1,722.3 1239.2,719.6 1240.4,716.8 1241.6,714.0 1242.7,711.3 1243.9,708.5 1245.0,705.8 1246.2,703.0 1247.4,700.2 1248.5,697.5 1249.7,694.7 1250.8,691.9 1252.0,689.2 1253.2,686.4 1254.3,683.6 1255.5,680.9 1256.6,678.1 1257.8,675.4 1259.0,672.6 1260.1,669.8 1261.3,667.1 1262.4,664.3 1263.6,661.5 1264.8,658.8 1265.9,656.0 1267.1,653.3 1268.3,650.5 1269.4,647.8 1270.6,645.0 1271.8,642.2 1272.9,639.5 1274.1,636.7 1275.3,634.0 1276.4,631.2 1277.6,628.5 1278.8,625.7 1279.9,623.0 1281.1,620.2 1282.3,617.4 1283.4,614.7 1284.6,611.9 1285.8,609.2 1286.9,606.4 1288.1,603.7 1289.3,600.9 1290.5,598.2 1291.6,595.4 1292.8,592.7 1294.0,589.9 1295.1,587.2 1296.3,584.4 1297.5,581.7 1298.7,578.9 1299.8,576.2 1301.0,573.4 1302.2,570.7 1303.4,567.9 1304.5,565.2 1305.7,562.4 1306.9,559.7 1308.1,556.9 1309.2,554.2 1310.4,551.4 1311.6,548.7 1312.8,545.9 1314.0,543.1 1315.1,540.4 1316.3,537.6 1317.5,534.9 1318.7,532.1 1319.9,529.4 1321.0,526.6 1322.2,523.9 1323.4,521.1 1324.6,518.4 1325.7,515.6 1326.9,512.9 1328.1,510.1 1329.3,507.3 1330.5,504.6 1331.7,501.8 1332.8,499.1 1334.0,496.3 1335.2,493.5 1336.4,490.8 1337.6,488.0 1338.7,485.3 1339.9,482.5 1341.1,479.7 1342.3,477.0 1343.5,474.2 1344.7,471.5 1345.8,468.7 1347.0,465.9 1348.2,463.2 1349.4,460.4 1350.6,457.6 1351.8,454.9 1353.0,452.1 1354.1,449.3 1355.3,446.5 1356.5,443.8 1357.7,441.0 1358.9,438.2 1360.1,435.5 1361.3,432.7 1362.4,429.9 1363.6,427.1 1364.8,424.3 1366.0,421.6 1367.2,418.8 1368.4,416.0 1369.6,413.2 1370.7,410.4 1371.9,407.7 1373.1,404.9 1374.3,402.1 1375.5,399.3 1376.7,396.5 1377.9,393.7 1379.1,390.9 1380.2,388.1 1381.4,385.4 1382.7,382.6 1383.9,379.8 1385.1,377.0 1386.3,374.3 1387.6,371.5 1388.8,368.8 1390.1,366.0 1391.3,363.3 1392.6,360.6 1393.9,357.9 1395.3,355.2 1396.6,352.5 1398.0,349.8 1399.3,347.1 1400.7,344.5 1402.2,341.9 1403.6,339.3 1405.1,336.7 1406.6,334.1 1408.1,331.6 1409.6,329.0 1411.2,326.5 1412.8,324.0 1414.5,321.6 1416.1,319.1 1417.8,316.7 1419.6,314.3 1421.4,312.0 1423.2,309.6 1425.0,307.3 1426.9,305.0 1428.8,302.8 1430.8,300.6 1432.7,298.4 1434.8,296.2 1436.8,294.0 1438.9,291.9 1441.0,289.8 1443.1,287.7 1445.2,285.6 1447.4,283.5 1449.5,281.4 1451.7,279.3 1453.9,277.3 1456.1,275.2 1458.3,273.2 1460.5,271.1 1462.7,269.1 1464.9,267.0 1467.1,265.0 1469.3,262.9 1471.5,260.8 1473.7,258.8 1475.8,256.7 1478.0,254.6 1480.1,252.4 1482.3,250.3 1484.4,248.1 1486.5,246.0 1488.5,243.8 1490.6,241.6 1492.6,239.4 1494.7,237.1 1496.7,234.9 1498.7,232.7 1500.7,230.4 1502.7,228.2 1504.7,225.9 1506.7,223.6 1508.7,221.4 1510.7,219.2 1512.7,216.9 1514.7,214.7 1516.7,212.5 1518.7,210.2 1520.7,208.0 1522.8,205.9 1524.8,203.7 1526.9,201.5 1529.0,199.4 1531.1,197.3 1533.2,195.2 1535.3,193.1 1537.5,191.1 1539.6,189.1 1541.8,187.1 1544.0,185.1 1546.3,183.1 1548.5,181.2 1550.7,179.2 1553.0,177.3 1555.3,175.5 1557.6,173.6 1559.9,171.7 1562.3,169.9 1564.6,168.1 1567.0,166.3 1569.3,164.6 1571.7,162.8 1574.2,161.1 1576.6,159.4 1579.0,157.7 1581.5,156.0 1583.9,154.3 1586.4,152.7 1588.9,151.0 1591.4,149.4 1593.9,147.8 1596.5,146.2 1599.0,144.7 1601.5,143.1 1604.1,141.6 1606.7,140.1 1609.3,138.6 1611.9,137.1 1614.5,135.7 1617.1,134.2 1619.8,132.8 1622.4,131.4 1625.1,130.0 1627.8,128.6 1630.4,127.2 1633.1,125.9 1635.8,124.6 1638.5,123.3 1641.3,122.0 1644.0,120.7 1646.7,119.5 1649.5,118.2 1652.2,117.0 1655.0,115.8 1657.8,114.6 1660.6,113.5 1663.3,112.3 1666.1,111.2 1668.9,110.1 1671.8,109.0 1674.6,107.9 1677.4,106.9 1680.2,105.8 1683.1,104.8 1685.9,103.8 1688.8,102.8 1691.7,101.9 1694.5,100.9 1697.4,100.0 1700.3,99.1 1703.2,98.2 1706.0,97.3 1708.9,96.5 1711.8,95.7 1714.7,94.8 1717.7,94.1 1720.6,93.3 1723.5,92.5 1726.4,91.8 1729.3,91.1 1732.3,90.4 1735.2,89.7 1738.1,89.0 1741.1,88.4 1744.0,87.8 1747.0,87.2 1749.9,86.6 1752.8,86.0 1755.8,85.5 1758.8,85.0 1761.7,84.5 1764.7,84.0 1767.6,83.5 1770.6,83.1 1773.5,82.6 1776.5,82.2 1779.5,81.9 1782.4,81.5 1785.4,81.1 1788.3,80.8 1791.3,80.5 1794.3,80.2 1797.2,79.9 1800.2,79.6 1803.2,79.3 1806.1,79.1 1809.1,78.9 1812.1,78.6 1815.1,78.4 1818.0,78.2 1821.0,78.0 1824.0,77.8 1827.0,77.6 1829.9,77.5 1832.9,77.3 1835.9,77.1 1838.9,77.0 1841.8,76.8 1844.8,76.7 1847.8,76.5 1850.8,76.4 1853.8,76.2 1856.8,76.1 1859.7,75.9 1862.7,75.8 1865.7,75.6 1868.7,75.5 1871.7,75.3 1874.7,75.2 1877.7,75.0 1880.7,74.9 1883.6,74.7 1886.6,74.5 1889.6,74.3 1892.6,74.1 1895.6,73.9 1898.6,73.7 1901.6,73.5 1904.6,73.3 1907.6,73.0 1910.5,72.8 1913.5,72.5 1916.5,72.2 1919.5,72.0 1922.5,71.7 1925.4,71.4 1928.4,71.1 1931.4,70.7 1934.4,70.4 1937.4,70.1 1940.3,69.8 1943.3,69.4 1946.3,69.1 1949.3,68.8 1952.2,68.5 1955.2,68.1 1958.2,67.8 1961.2,67.4 1964.1,67.1 1967.1,66.8 1970.1,66.5 1973.1,66.1 1976.1,65.8 1979.0,65.5 1982.0,65.2 1985.0,64.9 1988.0,64.6 1991.0,64.3 1993.9,64.0 1996.9,63.8 1999.9,63.5 2002.9,63.3 2005.9,63.0 2008.9,62.8 2011.8,62.6 2014.8,62.4 2017.8,62.2 2020.8,62.0 2023.8,61.9 2026.8,61.7 2029.8,61.6 2032.8,61.5 2035.8,61.4 2038.8,61.3 2041.8,61.3 2044.8,61.2 2047.8,61.2 2050.8,61.2 2053.8,61.2 2056.8,61.2 2059.8,61.2 2062.8,61.2 2065.8,61.3 2068.8,61.3 2071.9,61.4 2074.9,61.4 2077.9,61.5 2080.9,61.5 2083.9,61.6 2086.9,61.7 2089.9,61.8 2092.9,61.9 2096.0,61.9 2099.0,62.0 2102.0,62.1 2105.0,62.2 2108.0,62.3 2111.0,62.3 2114.0,62.4 2117.0,62.5 2120.0,62.6 2123.0,62.6 2126.1,62.7 2129.1,62.7 2132.1,62.8 2135.1,62.8 2138.1,62.8 2141.1,62.8 2144.1,62.8 2147.1,62.8 2150.1,62.8 2153.1,62.7 2156.1,62.7 2159.1,62.6 2162.1,62.5 2165.0,62.4 2168.0,62.3 2171.0,62.2 2174.0,62.0 2177.0,61.9 2180.0,61.7" stroke="#0000ff" stroke-width="6.0"/>
</g>
<g stroke="#000" stroke-width="4" fill="none">
<line x1="329" y1="1411.0" x2="355.0" y2="1411.0"/>
<line x1="2176.5" y1="1411.0" x2="2150.5" y2="1411.0"/>
<line x1="329" y1="1276.0" x2="343.0" y2="1276.0"/>
<line x1="2176.5" y1="1276.0" x2="2162.5" y2="1276.0"/>
<line x1="329" y1="1141.0" x2="355.0" y2="1141.0"/>
<line x1="2176.5" y1="1141.0" x2="2150.5" y2="1141.0"/>
<line x1="329" y1="1006.0" x2="343.0" y2="1006.0"/>
<line x1="2176.5" y1="1006.0" x2="2162.5" y2="1006.0"/>
<line x1="329" y1="871.0" x2="355.0" y2="871.0"/>
<line x1="2176.5" y1="871.0" x2="2150.5" y2="871.0"/>
<line x1="329" y1="736.0" x2="343.0" y2="736.0"/>
<line x1="2176.5" y1="736.0" x2="2162.5" y2="736.0"/>
<line x1="329" y1="601.0" x2="355.0" y2="601.0"/>
<line x1="2176.5" y1="601.0" x2="2150.5" y2="601.0"/>
<line x1="329" y1="466.0" x2="343.0" y2="466.0"/>
<line x1="2176.5" y1="466.0" x2="2162.5" y2="466.0"/>
<line x1="329" y1="331.0" x2="355.0" y2="331.0"/>
<line x1="2176.5" y1="331.0" x2="2150.5" y2="331.0"/>
<line x1="329" y1="196.0" x2="343.0" y2="196.0"/>
<line x1="2176.5" y1="196.0" x2="2162.5" y2="196.0"/>
<line x1="512.9" y1="61" x2="512.9" y2="77.0"/>
<line x1="512.9" y1="1420" x2="512.9" y2="1405.0"/>
<line x1="697.8" y1="61" x2="697.8" y2="90.0"/>
<line x1="697.8" y1="1420" x2="697.8" y2="1392.0"/>
<line x1="882.7" y1="61" x2="882.7" y2="77.0"/>
<line x1="882.7" y1="1420" x2="882.7" y2="1405.0"/>
<line x1="1067.6" y1="61" x2="1067.6" y2="90.0"/>
<line x1="1067.6" y1="1420" x2="1067.6" y2="1392.0"/>
<line x1="1252.5" y1="61" x2="1252.5" y2="77.0"/>
<line x1="1252.5" y1="1420" x2="1252.5" y2="1405.0"/>
<line x1="1437.4" y1="61" x2="1437.4" y2="90.0"/>
<line x1="1437.4" y1="1420" x2="1437.4" y2="1392.0"/>
<line x1="1622.3" y1="61" x2="1622.3" y2="77.0"/>
<line x1="1622.3" y1="1420" x2="1622.3" y2="1405.0"/>
<line x1="1807.2" y1="61" x2="1807.2" y2="90.0"/>
<line x1="1807.2" y1="1420" x2="1807.2" y2="1392.0"/>
<line x1="1992.1" y1="61" x2="1992.1" y2="77.0"/>
<line x1="1992.1" y1="1420" x2="1992.1" y2="1405.0"/>
</g>
<g font-family="'Liberation Serif', 'Times New Roman', serif" font-weight="bold" font-size="77" fill="#000">
<text x="295" y="1430.5" text-anchor="end">0</text>
<text x="295" y="1160.5" text-anchor="end">20</text>
<text x="295" y="890.5" text-anchor="end">40</text>
<text x="295" y="620.5" text-anchor="end">60</text>
<text x="295" y="350.5" text-anchor="end">80</text>
<text x="295" y="80.5" text-anchor="end">100</text>
<text x="328.0" y="1511" text-anchor="middle">300</text>
<text x="697.8" y="1511" text-anchor="middle">350</text>
<text x="1067.6" y="1511" text-anchor="middle">400</text>
<text x="1437.4" y="1511" text-anchor="middle">450</text>
<text x="1807.2" y="1511" text-anchor="middle">500</text>
<text x="2177.0" y="1511" text-anchor="middle">550</text>
</g>
<text x="882.6" y="1661" font-family="'Liberation Serif', 'Times New Roman', serif" font-weight="bold" font-size="98" fill="#000">Temperature</text>
<g font-family="'Liberation Serif', 'Times New Roman', serif" fill="#000">
<text x="1456.2" y="1663" font-size="92">(</text>
<text x="1486.2" y="1668.5" font-size="96">°</text>
<text transform="translate(1519,1660.8) scale(1.1,1)" x="0" y="0" font-size="100">C</text>
<text x="1587.6" y="1663" font-size="92">)</text>
</g>
<g transform="translate(123,1140) rotate(-90)" font-family="'Liberation Serif', 'Times New Roman', serif" font-size="100" fill="#000">
<text x="0" y="0" font-weight="bold" font-size="99.3">Conversion</text>
<text x="510.7" y="0">(</text>
<text transform="translate(545.4,0) scale(1.16,1.05)" x="0" y="0">%</text>
<text x="642" y="0">)</text>
</g>
<g font-family="'Liberation Serif', 'Times New Roman', serif" font-size="76" fill="#000">
<text x="1565" y="999">Heating</text>
<text x="1846" y="999">Cooling</text>
<text x="1253.5" y="1082">1st cycle:</text>
<text x="1251" y="1175">2nd cycle:</text>
<text x="1252" y="1269">3rd cycle:</text>
</g>
<g fill="none">
<line x1="1590" y1="1068.8" x2="1744.5" y2="1068.8" stroke="#000" stroke-width="6.0"/>
<line x1="1869.0" y1="1067.6" x2="1902.0" y2="1067.6" stroke="#000" stroke-width="6.0"/>
<line x1="1936.3" y1="1067.6" x2="1970.5" y2="1067.6" stroke="#000" stroke-width="6.0"/>
<line x1="2003.6" y1="1067.6" x2="2025.5" y2="1067.6" stroke="#000" stroke-width="6.0"/>
<line x1="1590" y1="1158.0" x2="1744.5" y2="1158.0" stroke="#ff0000" stroke-width="7.0"/>
<line x1="1869.0" y1="1158.0" x2="1902.0" y2="1158.0" stroke="#ff0000" stroke-width="7.0"/>
<line x1="1936.3" y1="1158.0" x2="1970.5" y2="1158.0" stroke="#ff0000" stroke-width="7.0"/>
<line x1="2003.6" y1="1158.0" x2="2025.5" y2="1158.0" stroke="#ff0000" stroke-width="7.0"/>
<line x1="1590" y1="1250.5" x2="1744.5" y2="1250.5" stroke="#0000ff" stroke-width="6.0"/>
<line x1="1869.0" y1="1250.5" x2="1902.0" y2="1250.5" stroke="#0000ff" stroke-width="6.0"/>
<line x1="1936.3" y1="1250.5" x2="1970.5" y2="1250.5" stroke="#0000ff" stroke-width="6.0"/>
<line x1="2003.6" y1="1250.5" x2="2025.5" y2="1250.5" stroke="#0000ff" stroke-width="6.0"/>
</g>
</svg></body></html>
